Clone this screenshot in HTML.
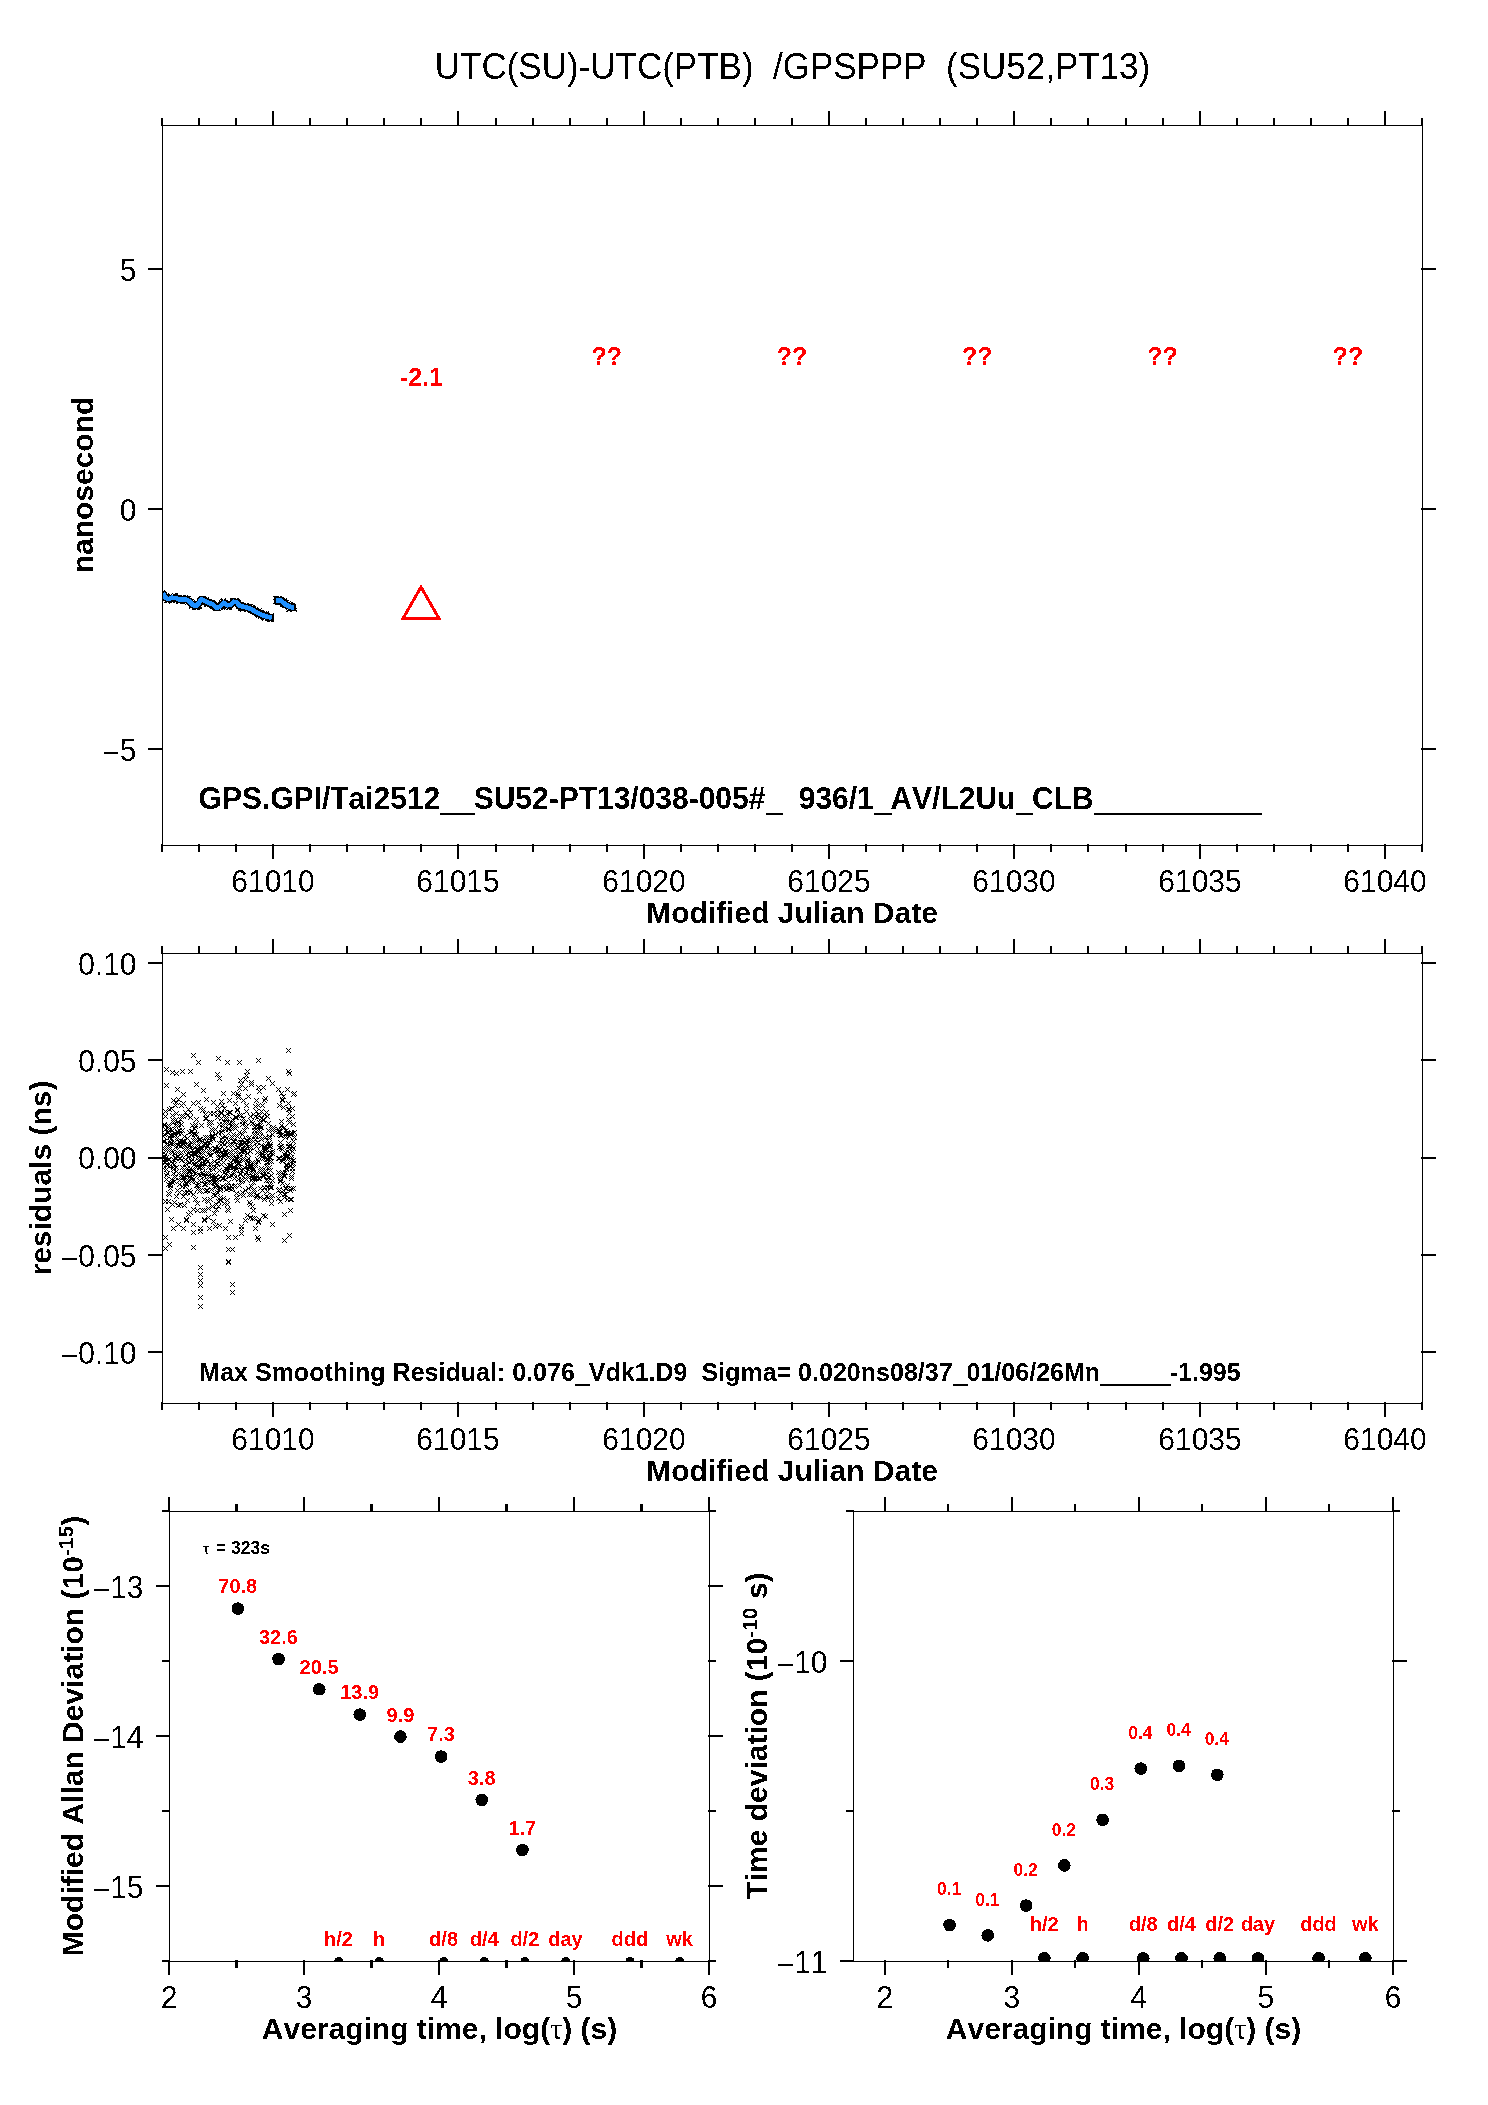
<!DOCTYPE html>
<html><head><meta charset="utf-8"><title>UTC(SU)-UTC(PTB) /GPSPPP</title>
<style>html,body{margin:0;padding:0;background:#fff;}svg{display:block;position:absolute;left:0;top:0;font-family:"Liberation Sans", sans-serif;}text{white-space:pre;font-kerning:none;font-variant-ligatures:none;}</style></head><body>
<svg width="1488" height="2105" viewBox="0 0 1488 2105">
<rect width="1488" height="2105" fill="#fff"/>
<defs><filter id="bw" filterUnits="userSpaceOnUse" x="0" y="0" width="1488" height="2105" color-interpolation-filters="sRGB"><feComponentTransfer><feFuncA type="discrete" tableValues="0 1"/></feComponentTransfer></filter></defs>
<g filter="url(#bw)">
<text transform="translate(792.5 78.5) scale(1 1.044)" font-size="35" text-anchor="middle">UTC(SU)-UTC(PTB)  /GPSPPP  (SU52,PT13)</text>
<g shape-rendering="crispEdges">
<rect x="162" y="125" width="1261" height="1"/>
<rect x="162" y="845" width="1261" height="1"/>
<rect x="162" y="125" width="1" height="721"/>
<rect x="1422" y="125" width="1" height="721"/>
</g>
<g shape-rendering="crispEdges">
<rect x="161" y="118" width="2" height="8"/>
<rect x="161" y="844" width="2" height="8"/>
<rect x="198" y="118" width="2" height="8"/>
<rect x="198" y="844" width="2" height="8"/>
<rect x="235" y="118" width="2" height="8"/>
<rect x="235" y="844" width="2" height="8"/>
<rect x="272" y="111" width="2" height="15"/>
<rect x="272" y="844" width="2" height="15"/>
<rect x="309" y="118" width="2" height="8"/>
<rect x="309" y="844" width="2" height="8"/>
<rect x="346" y="118" width="2" height="8"/>
<rect x="346" y="844" width="2" height="8"/>
<rect x="383" y="118" width="2" height="8"/>
<rect x="383" y="844" width="2" height="8"/>
<rect x="420" y="118" width="2" height="8"/>
<rect x="420" y="844" width="2" height="8"/>
<rect x="457" y="111" width="2" height="15"/>
<rect x="457" y="844" width="2" height="15"/>
<rect x="495" y="118" width="2" height="8"/>
<rect x="495" y="844" width="2" height="8"/>
<rect x="532" y="118" width="2" height="8"/>
<rect x="532" y="844" width="2" height="8"/>
<rect x="569" y="118" width="2" height="8"/>
<rect x="569" y="844" width="2" height="8"/>
<rect x="606" y="118" width="2" height="8"/>
<rect x="606" y="844" width="2" height="8"/>
<rect x="643" y="111" width="2" height="15"/>
<rect x="643" y="844" width="2" height="15"/>
<rect x="680" y="118" width="2" height="8"/>
<rect x="680" y="844" width="2" height="8"/>
<rect x="717" y="118" width="2" height="8"/>
<rect x="717" y="844" width="2" height="8"/>
<rect x="754" y="118" width="2" height="8"/>
<rect x="754" y="844" width="2" height="8"/>
<rect x="791" y="118" width="2" height="8"/>
<rect x="791" y="844" width="2" height="8"/>
<rect x="828" y="111" width="2" height="15"/>
<rect x="828" y="844" width="2" height="15"/>
<rect x="865" y="118" width="2" height="8"/>
<rect x="865" y="844" width="2" height="8"/>
<rect x="902" y="118" width="2" height="8"/>
<rect x="902" y="844" width="2" height="8"/>
<rect x="939" y="118" width="2" height="8"/>
<rect x="939" y="844" width="2" height="8"/>
<rect x="976" y="118" width="2" height="8"/>
<rect x="976" y="844" width="2" height="8"/>
<rect x="1013" y="111" width="2" height="15"/>
<rect x="1013" y="844" width="2" height="15"/>
<rect x="1050" y="118" width="2" height="8"/>
<rect x="1050" y="844" width="2" height="8"/>
<rect x="1087" y="118" width="2" height="8"/>
<rect x="1087" y="844" width="2" height="8"/>
<rect x="1125" y="118" width="2" height="8"/>
<rect x="1125" y="844" width="2" height="8"/>
<rect x="1162" y="118" width="2" height="8"/>
<rect x="1162" y="844" width="2" height="8"/>
<rect x="1199" y="111" width="2" height="15"/>
<rect x="1199" y="844" width="2" height="15"/>
<rect x="1236" y="118" width="2" height="8"/>
<rect x="1236" y="844" width="2" height="8"/>
<rect x="1273" y="118" width="2" height="8"/>
<rect x="1273" y="844" width="2" height="8"/>
<rect x="1310" y="118" width="2" height="8"/>
<rect x="1310" y="844" width="2" height="8"/>
<rect x="1347" y="118" width="2" height="8"/>
<rect x="1347" y="844" width="2" height="8"/>
<rect x="1384" y="111" width="2" height="15"/>
<rect x="1384" y="844" width="2" height="15"/>
<rect x="1421" y="118" width="2" height="8"/>
<rect x="1421" y="844" width="2" height="8"/>
</g>
<g shape-rendering="crispEdges">
<rect x="148" y="268" width="15" height="2"/>
<rect x="1421" y="268" width="15" height="2"/>
<rect x="148" y="508" width="15" height="2"/>
<rect x="1421" y="508" width="15" height="2"/>
<rect x="148" y="748" width="15" height="2"/>
<rect x="1421" y="748" width="15" height="2"/>
</g>
<text transform="translate(136.5 281) scale(1 1.044)" font-size="30" text-anchor="end">5</text>
<text transform="translate(136.5 521) scale(1 1.044)" font-size="30" text-anchor="end">0</text>
<text transform="translate(136.5 761) scale(1 1.044)" font-size="30" text-anchor="end"><tspan dy="1.92">&#8722;</tspan><tspan dy="-1.92">5</tspan></text>
<text transform="translate(273 892) scale(1 1.044)" font-size="30" text-anchor="middle">61010</text>
<text transform="translate(458 892) scale(1 1.044)" font-size="30" text-anchor="middle">61015</text>
<text transform="translate(644 892) scale(1 1.044)" font-size="30" text-anchor="middle">61020</text>
<text transform="translate(829 892) scale(1 1.044)" font-size="30" text-anchor="middle">61025</text>
<text transform="translate(1014 892) scale(1 1.044)" font-size="30" text-anchor="middle">61030</text>
<text transform="translate(1200 892) scale(1 1.044)" font-size="30" text-anchor="middle">61035</text>
<text transform="translate(1385 892) scale(1 1.044)" font-size="30" text-anchor="middle">61040</text>
<text transform="translate(792 923)" font-size="30" font-weight="bold" text-anchor="middle">Modified Julian Date</text>
<text transform="translate(93 485) rotate(-90)" font-size="30" font-weight="bold" text-anchor="middle">nanosecond</text>
<clipPath id="c1"><rect x="163" y="126" width="1259" height="719"/></clipPath>
<polygon points="421,587 403,618.5 439,618.5" fill="none" stroke="#f00" stroke-width="3" stroke-linejoin="miter" stroke-miterlimit="10"/>
<text transform="translate(421.41 386) scale(1 1.044)" font-size="25" font-weight="bold" text-anchor="middle" fill="#f00">-2.1</text>
<text transform="translate(606.71 365) scale(1 1.044)" font-size="25" font-weight="bold" text-anchor="middle" fill="#f00">??</text>
<text transform="translate(792 365) scale(1 1.044)" font-size="25" font-weight="bold" text-anchor="middle" fill="#f00">??</text>
<text transform="translate(977.29 365) scale(1 1.044)" font-size="25" font-weight="bold" text-anchor="middle" fill="#f00">??</text>
<text transform="translate(1162.59 365) scale(1 1.044)" font-size="25" font-weight="bold" text-anchor="middle" fill="#f00">??</text>
<text transform="translate(1347.88 365) scale(1 1.044)" font-size="25" font-weight="bold" text-anchor="middle" fill="#f00">??</text>
<g shape-rendering="crispEdges">
<rect x="440" y="813" width="35" height="2"/>
<rect x="766" y="813" width="17" height="2"/>
<rect x="874" y="813" width="18" height="2"/>
<rect x="1016" y="813" width="17" height="2"/>
<rect x="1094" y="813" width="168" height="2"/>
</g>
<text transform="translate(198.6 809) scale(1 1.044)" font-size="30" font-weight="bold">GPS.GPI/Tai2512    SU52-PT13/038-005#    936/1  AV/L2Uu  CLB                    </text>
<g shape-rendering="crispEdges">
<rect x="162" y="953" width="1261" height="1"/>
<rect x="162" y="1403" width="1261" height="1"/>
<rect x="162" y="953" width="1" height="451"/>
<rect x="1422" y="953" width="1" height="451"/>
</g>
<g shape-rendering="crispEdges">
<rect x="161" y="946" width="2" height="8"/>
<rect x="161" y="1402" width="2" height="8"/>
<rect x="198" y="946" width="2" height="8"/>
<rect x="198" y="1402" width="2" height="8"/>
<rect x="235" y="946" width="2" height="8"/>
<rect x="235" y="1402" width="2" height="8"/>
<rect x="272" y="939" width="2" height="15"/>
<rect x="272" y="1402" width="2" height="15"/>
<rect x="309" y="946" width="2" height="8"/>
<rect x="309" y="1402" width="2" height="8"/>
<rect x="346" y="946" width="2" height="8"/>
<rect x="346" y="1402" width="2" height="8"/>
<rect x="383" y="946" width="2" height="8"/>
<rect x="383" y="1402" width="2" height="8"/>
<rect x="420" y="946" width="2" height="8"/>
<rect x="420" y="1402" width="2" height="8"/>
<rect x="457" y="939" width="2" height="15"/>
<rect x="457" y="1402" width="2" height="15"/>
<rect x="495" y="946" width="2" height="8"/>
<rect x="495" y="1402" width="2" height="8"/>
<rect x="532" y="946" width="2" height="8"/>
<rect x="532" y="1402" width="2" height="8"/>
<rect x="569" y="946" width="2" height="8"/>
<rect x="569" y="1402" width="2" height="8"/>
<rect x="606" y="946" width="2" height="8"/>
<rect x="606" y="1402" width="2" height="8"/>
<rect x="643" y="939" width="2" height="15"/>
<rect x="643" y="1402" width="2" height="15"/>
<rect x="680" y="946" width="2" height="8"/>
<rect x="680" y="1402" width="2" height="8"/>
<rect x="717" y="946" width="2" height="8"/>
<rect x="717" y="1402" width="2" height="8"/>
<rect x="754" y="946" width="2" height="8"/>
<rect x="754" y="1402" width="2" height="8"/>
<rect x="791" y="946" width="2" height="8"/>
<rect x="791" y="1402" width="2" height="8"/>
<rect x="828" y="939" width="2" height="15"/>
<rect x="828" y="1402" width="2" height="15"/>
<rect x="865" y="946" width="2" height="8"/>
<rect x="865" y="1402" width="2" height="8"/>
<rect x="902" y="946" width="2" height="8"/>
<rect x="902" y="1402" width="2" height="8"/>
<rect x="939" y="946" width="2" height="8"/>
<rect x="939" y="1402" width="2" height="8"/>
<rect x="976" y="946" width="2" height="8"/>
<rect x="976" y="1402" width="2" height="8"/>
<rect x="1013" y="939" width="2" height="15"/>
<rect x="1013" y="1402" width="2" height="15"/>
<rect x="1050" y="946" width="2" height="8"/>
<rect x="1050" y="1402" width="2" height="8"/>
<rect x="1087" y="946" width="2" height="8"/>
<rect x="1087" y="1402" width="2" height="8"/>
<rect x="1125" y="946" width="2" height="8"/>
<rect x="1125" y="1402" width="2" height="8"/>
<rect x="1162" y="946" width="2" height="8"/>
<rect x="1162" y="1402" width="2" height="8"/>
<rect x="1199" y="939" width="2" height="15"/>
<rect x="1199" y="1402" width="2" height="15"/>
<rect x="1236" y="946" width="2" height="8"/>
<rect x="1236" y="1402" width="2" height="8"/>
<rect x="1273" y="946" width="2" height="8"/>
<rect x="1273" y="1402" width="2" height="8"/>
<rect x="1310" y="946" width="2" height="8"/>
<rect x="1310" y="1402" width="2" height="8"/>
<rect x="1347" y="946" width="2" height="8"/>
<rect x="1347" y="1402" width="2" height="8"/>
<rect x="1384" y="939" width="2" height="15"/>
<rect x="1384" y="1402" width="2" height="15"/>
<rect x="1421" y="946" width="2" height="8"/>
<rect x="1421" y="1402" width="2" height="8"/>
</g>
<g shape-rendering="crispEdges">
<rect x="148" y="962" width="15" height="2"/>
<rect x="1421" y="962" width="15" height="2"/>
<rect x="148" y="1059" width="15" height="2"/>
<rect x="1421" y="1059" width="15" height="2"/>
<rect x="148" y="1157" width="15" height="2"/>
<rect x="1421" y="1157" width="15" height="2"/>
<rect x="148" y="1254" width="15" height="2"/>
<rect x="1421" y="1254" width="15" height="2"/>
<rect x="148" y="1351" width="15" height="2"/>
<rect x="1421" y="1351" width="15" height="2"/>
</g>
<text transform="translate(136.5 975) scale(1 1.044)" font-size="30" text-anchor="end">0.10</text>
<text transform="translate(136.5 1072) scale(1 1.044)" font-size="30" text-anchor="end">0.05</text>
<text transform="translate(136.5 1169) scale(1 1.044)" font-size="30" text-anchor="end">0.00</text>
<text transform="translate(136.5 1267) scale(1 1.044)" font-size="30" text-anchor="end"><tspan dy="1.92">&#8722;</tspan><tspan dy="-1.92">0.05</tspan></text>
<text transform="translate(136.5 1364) scale(1 1.044)" font-size="30" text-anchor="end"><tspan dy="1.92">&#8722;</tspan><tspan dy="-1.92">0.10</tspan></text>
<text transform="translate(273 1450) scale(1 1.044)" font-size="30" text-anchor="middle">61010</text>
<text transform="translate(458 1450) scale(1 1.044)" font-size="30" text-anchor="middle">61015</text>
<text transform="translate(644 1450) scale(1 1.044)" font-size="30" text-anchor="middle">61020</text>
<text transform="translate(829 1450) scale(1 1.044)" font-size="30" text-anchor="middle">61025</text>
<text transform="translate(1014 1450) scale(1 1.044)" font-size="30" text-anchor="middle">61030</text>
<text transform="translate(1200 1450) scale(1 1.044)" font-size="30" text-anchor="middle">61035</text>
<text transform="translate(1385 1450) scale(1 1.044)" font-size="30" text-anchor="middle">61040</text>
<text transform="translate(792 1481)" font-size="30" font-weight="bold" text-anchor="middle">Modified Julian Date</text>
<text transform="translate(51 1178) rotate(-90)" font-size="30" font-weight="bold" text-anchor="middle">residuals (ns)</text>
<g shape-rendering="crispEdges">
<rect x="575" y="1384" width="15" height="2"/>
<rect x="953" y="1384" width="15" height="2"/>
<rect x="1100" y="1384" width="71" height="2"/>
</g>
<text transform="translate(199.3 1381) scale(1 1.044)" font-size="25" font-weight="bold" letter-spacing="0.02">Max Smoothing Residual: 0.076  Vdk1.D9  Sigma= 0.020ns08/37  01/06/26Mn          -1.995</text>
<clipPath id="c2"><rect x="163" y="954" width="1259" height="449"/></clipPath>
<path clip-path="url(#c2)" d="M160 1152l5 5m0-5l-5 5M161 1156l5 5m0-5l-5 5M161 1154l5 5m0-5l-5 5M161 1159l5 5m0-5l-5 5M161 1166l5 5m0-5l-5 5M161 1159l5 5m0-5l-5 5M161 1134l5 5m0-5l-5 5M161 1139l5 5m0-5l-5 5M162 1160l5 5m0-5l-5 5M162 1146l5 5m0-5l-5 5M162 1122l5 5m0-5l-5 5M162 1154l5 5m0-5l-5 5M162 1132l5 5m0-5l-5 5M162 1123l5 5m0-5l-5 5M162 1139l5 5m0-5l-5 5M163 1152l5 5m0-5l-5 5M163 1156l5 5m0-5l-5 5M163 1109l5 5m0-5l-5 5M163 1127l5 5m0-5l-5 5M163 1160l5 5m0-5l-5 5M163 1114l5 5m0-5l-5 5M163 1199l5 5m0-5l-5 5M163 1156l5 5m0-5l-5 5M164 1158l5 5m0-5l-5 5M164 1146l5 5m0-5l-5 5M164 1155l5 5m0-5l-5 5M164 1177l5 5m0-5l-5 5M164 1162l5 5m0-5l-5 5M164 1173l5 5m0-5l-5 5M164 1167l5 5m0-5l-5 5M165 1163l5 5m0-5l-5 5M165 1130l5 5m0-5l-5 5M165 1171l5 5m0-5l-5 5M165 1147l5 5m0-5l-5 5M165 1171l5 5m0-5l-5 5M165 1207l5 5m0-5l-5 5M165 1141l5 5m0-5l-5 5M166 1123l5 5m0-5l-5 5M166 1191l5 5m0-5l-5 5M166 1130l5 5m0-5l-5 5M166 1182l5 5m0-5l-5 5M166 1127l5 5m0-5l-5 5M166 1199l5 5m0-5l-5 5M166 1157l5 5m0-5l-5 5M166 1125l5 5m0-5l-5 5M167 1145l5 5m0-5l-5 5M167 1192l5 5m0-5l-5 5M167 1157l5 5m0-5l-5 5M167 1107l5 5m0-5l-5 5M167 1164l5 5m0-5l-5 5M167 1135l5 5m0-5l-5 5M167 1147l5 5m0-5l-5 5M168 1127l5 5m0-5l-5 5M168 1181l5 5m0-5l-5 5M168 1139l5 5m0-5l-5 5M168 1141l5 5m0-5l-5 5M168 1183l5 5m0-5l-5 5M168 1163l5 5m0-5l-5 5M168 1186l5 5m0-5l-5 5M168 1133l5 5m0-5l-5 5M169 1177l5 5m0-5l-5 5M169 1136l5 5m0-5l-5 5M169 1106l5 5m0-5l-5 5M169 1159l5 5m0-5l-5 5M169 1141l5 5m0-5l-5 5M169 1149l5 5m0-5l-5 5M169 1217l5 5m0-5l-5 5M170 1070l5 5m0-5l-5 5M170 1180l5 5m0-5l-5 5M170 1161l5 5m0-5l-5 5M170 1128l5 5m0-5l-5 5M170 1180l5 5m0-5l-5 5M170 1113l5 5m0-5l-5 5M170 1150l5 5m0-5l-5 5M171 1165l5 5m0-5l-5 5M171 1098l5 5m0-5l-5 5M171 1120l5 5m0-5l-5 5M171 1118l5 5m0-5l-5 5M171 1133l5 5m0-5l-5 5M171 1171l5 5m0-5l-5 5M171 1167l5 5m0-5l-5 5M171 1226l5 5m0-5l-5 5M172 1179l5 5m0-5l-5 5M172 1140l5 5m0-5l-5 5M172 1151l5 5m0-5l-5 5M172 1162l5 5m0-5l-5 5M172 1200l5 5m0-5l-5 5M172 1131l5 5m0-5l-5 5M172 1158l5 5m0-5l-5 5M173 1118l5 5m0-5l-5 5M173 1123l5 5m0-5l-5 5M173 1133l5 5m0-5l-5 5M173 1103l5 5m0-5l-5 5M173 1175l5 5m0-5l-5 5M173 1155l5 5m0-5l-5 5M173 1145l5 5m0-5l-5 5M173 1156l5 5m0-5l-5 5M174 1111l5 5m0-5l-5 5M174 1100l5 5m0-5l-5 5M174 1144l5 5m0-5l-5 5M174 1071l5 5m0-5l-5 5M174 1165l5 5m0-5l-5 5M174 1169l5 5m0-5l-5 5M174 1194l5 5m0-5l-5 5M175 1188l5 5m0-5l-5 5M175 1135l5 5m0-5l-5 5M175 1129l5 5m0-5l-5 5M175 1130l5 5m0-5l-5 5M175 1123l5 5m0-5l-5 5M175 1087l5 5m0-5l-5 5M175 1150l5 5m0-5l-5 5M176 1171l5 5m0-5l-5 5M176 1143l5 5m0-5l-5 5M176 1222l5 5m0-5l-5 5M176 1154l5 5m0-5l-5 5M176 1097l5 5m0-5l-5 5M176 1122l5 5m0-5l-5 5M176 1120l5 5m0-5l-5 5M176 1131l5 5m0-5l-5 5M177 1156l5 5m0-5l-5 5M177 1190l5 5m0-5l-5 5M177 1182l5 5m0-5l-5 5M177 1178l5 5m0-5l-5 5M177 1139l5 5m0-5l-5 5M177 1128l5 5m0-5l-5 5M177 1140l5 5m0-5l-5 5M178 1117l5 5m0-5l-5 5M178 1156l5 5m0-5l-5 5M178 1141l5 5m0-5l-5 5M178 1151l5 5m0-5l-5 5M178 1140l5 5m0-5l-5 5M178 1144l5 5m0-5l-5 5M178 1202l5 5m0-5l-5 5M179 1122l5 5m0-5l-5 5M179 1172l5 5m0-5l-5 5M179 1158l5 5m0-5l-5 5M179 1131l5 5m0-5l-5 5M179 1150l5 5m0-5l-5 5M179 1114l5 5m0-5l-5 5M179 1174l5 5m0-5l-5 5M179 1103l5 5m0-5l-5 5M180 1139l5 5m0-5l-5 5M180 1069l5 5m0-5l-5 5M180 1141l5 5m0-5l-5 5M180 1128l5 5m0-5l-5 5M180 1184l5 5m0-5l-5 5M180 1165l5 5m0-5l-5 5M180 1143l5 5m0-5l-5 5M181 1175l5 5m0-5l-5 5M181 1178l5 5m0-5l-5 5M181 1092l5 5m0-5l-5 5M181 1194l5 5m0-5l-5 5M181 1141l5 5m0-5l-5 5M181 1139l5 5m0-5l-5 5M181 1114l5 5m0-5l-5 5M181 1101l5 5m0-5l-5 5M182 1167l5 5m0-5l-5 5M182 1147l5 5m0-5l-5 5M182 1169l5 5m0-5l-5 5M182 1190l5 5m0-5l-5 5M182 1139l5 5m0-5l-5 5M182 1134l5 5m0-5l-5 5M182 1203l5 5m0-5l-5 5M183 1157l5 5m0-5l-5 5M183 1191l5 5m0-5l-5 5M183 1179l5 5m0-5l-5 5M183 1175l5 5m0-5l-5 5M183 1110l5 5m0-5l-5 5M183 1161l5 5m0-5l-5 5M183 1184l5 5m0-5l-5 5M184 1217l5 5m0-5l-5 5M184 1181l5 5m0-5l-5 5M184 1162l5 5m0-5l-5 5M184 1218l5 5m0-5l-5 5M184 1182l5 5m0-5l-5 5M184 1147l5 5m0-5l-5 5M184 1152l5 5m0-5l-5 5M184 1173l5 5m0-5l-5 5M185 1190l5 5m0-5l-5 5M185 1136l5 5m0-5l-5 5M185 1113l5 5m0-5l-5 5M185 1166l5 5m0-5l-5 5M185 1141l5 5m0-5l-5 5M185 1198l5 5m0-5l-5 5M185 1146l5 5m0-5l-5 5M186 1107l5 5m0-5l-5 5M186 1155l5 5m0-5l-5 5M186 1142l5 5m0-5l-5 5M186 1212l5 5m0-5l-5 5M186 1180l5 5m0-5l-5 5M186 1169l5 5m0-5l-5 5M186 1151l5 5m0-5l-5 5M186 1178l5 5m0-5l-5 5M187 1143l5 5m0-5l-5 5M187 1130l5 5m0-5l-5 5M187 1169l5 5m0-5l-5 5M187 1175l5 5m0-5l-5 5M187 1160l5 5m0-5l-5 5M187 1168l5 5m0-5l-5 5M187 1188l5 5m0-5l-5 5M188 1190l5 5m0-5l-5 5M188 1069l5 5m0-5l-5 5M188 1166l5 5m0-5l-5 5M188 1145l5 5m0-5l-5 5M188 1115l5 5m0-5l-5 5M188 1110l5 5m0-5l-5 5M188 1171l5 5m0-5l-5 5M189 1159l5 5m0-5l-5 5M189 1129l5 5m0-5l-5 5M189 1153l5 5m0-5l-5 5M189 1179l5 5m0-5l-5 5M189 1144l5 5m0-5l-5 5M189 1132l5 5m0-5l-5 5M189 1140l5 5m0-5l-5 5M189 1176l5 5m0-5l-5 5M190 1148l5 5m0-5l-5 5M190 1178l5 5m0-5l-5 5M190 1175l5 5m0-5l-5 5M190 1157l5 5m0-5l-5 5M190 1151l5 5m0-5l-5 5M190 1123l5 5m0-5l-5 5M190 1129l5 5m0-5l-5 5M191 1170l5 5m0-5l-5 5M191 1207l5 5m0-5l-5 5M191 1138l5 5m0-5l-5 5M191 1168l5 5m0-5l-5 5M191 1177l5 5m0-5l-5 5M191 1101l5 5m0-5l-5 5M191 1192l5 5m0-5l-5 5M192 1131l5 5m0-5l-5 5M192 1159l5 5m0-5l-5 5M192 1126l5 5m0-5l-5 5M192 1152l5 5m0-5l-5 5M192 1145l5 5m0-5l-5 5M192 1162l5 5m0-5l-5 5M192 1132l5 5m0-5l-5 5M192 1151l5 5m0-5l-5 5M193 1197l5 5m0-5l-5 5M193 1124l5 5m0-5l-5 5M193 1152l5 5m0-5l-5 5M193 1122l5 5m0-5l-5 5M193 1171l5 5m0-5l-5 5M193 1164l5 5m0-5l-5 5M193 1138l5 5m0-5l-5 5M194 1183l5 5m0-5l-5 5M194 1137l5 5m0-5l-5 5M194 1161l5 5m0-5l-5 5M194 1163l5 5m0-5l-5 5M194 1143l5 5m0-5l-5 5M194 1117l5 5m0-5l-5 5M194 1132l5 5m0-5l-5 5M194 1082l5 5m0-5l-5 5M195 1201l5 5m0-5l-5 5M195 1187l5 5m0-5l-5 5M195 1146l5 5m0-5l-5 5M195 1187l5 5m0-5l-5 5M195 1151l5 5m0-5l-5 5M195 1147l5 5m0-5l-5 5M195 1208l5 5m0-5l-5 5M196 1149l5 5m0-5l-5 5M196 1100l5 5m0-5l-5 5M196 1182l5 5m0-5l-5 5M196 1154l5 5m0-5l-5 5M196 1184l5 5m0-5l-5 5M196 1172l5 5m0-5l-5 5M196 1150l5 5m0-5l-5 5M197 1137l5 5m0-5l-5 5M197 1189l5 5m0-5l-5 5M197 1149l5 5m0-5l-5 5M197 1178l5 5m0-5l-5 5M197 1155l5 5m0-5l-5 5M197 1165l5 5m0-5l-5 5M197 1162l5 5m0-5l-5 5M197 1157l5 5m0-5l-5 5M198 1188l5 5m0-5l-5 5M198 1106l5 5m0-5l-5 5M198 1165l5 5m0-5l-5 5M198 1173l5 5m0-5l-5 5M198 1139l5 5m0-5l-5 5M198 1137l5 5m0-5l-5 5M198 1145l5 5m0-5l-5 5M199 1145l5 5m0-5l-5 5M199 1161l5 5m0-5l-5 5M199 1156l5 5m0-5l-5 5M199 1149l5 5m0-5l-5 5M199 1153l5 5m0-5l-5 5M199 1140l5 5m0-5l-5 5M199 1123l5 5m0-5l-5 5M199 1147l5 5m0-5l-5 5M200 1170l5 5m0-5l-5 5M200 1165l5 5m0-5l-5 5M200 1108l5 5m0-5l-5 5M200 1146l5 5m0-5l-5 5M200 1208l5 5m0-5l-5 5M200 1163l5 5m0-5l-5 5M200 1139l5 5m0-5l-5 5M201 1178l5 5m0-5l-5 5M201 1172l5 5m0-5l-5 5M201 1161l5 5m0-5l-5 5M201 1151l5 5m0-5l-5 5M201 1107l5 5m0-5l-5 5M201 1088l5 5m0-5l-5 5M201 1161l5 5m0-5l-5 5M202 1174l5 5m0-5l-5 5M202 1217l5 5m0-5l-5 5M202 1158l5 5m0-5l-5 5M202 1182l5 5m0-5l-5 5M202 1218l5 5m0-5l-5 5M202 1208l5 5m0-5l-5 5M202 1197l5 5m0-5l-5 5M202 1143l5 5m0-5l-5 5M203 1189l5 5m0-5l-5 5M203 1141l5 5m0-5l-5 5M203 1116l5 5m0-5l-5 5M203 1135l5 5m0-5l-5 5M203 1112l5 5m0-5l-5 5M203 1182l5 5m0-5l-5 5M203 1162l5 5m0-5l-5 5M204 1157l5 5m0-5l-5 5M204 1139l5 5m0-5l-5 5M204 1097l5 5m0-5l-5 5M204 1146l5 5m0-5l-5 5M204 1171l5 5m0-5l-5 5M204 1116l5 5m0-5l-5 5M204 1188l5 5m0-5l-5 5M205 1198l5 5m0-5l-5 5M205 1159l5 5m0-5l-5 5M205 1144l5 5m0-5l-5 5M205 1144l5 5m0-5l-5 5M205 1177l5 5m0-5l-5 5M205 1143l5 5m0-5l-5 5M205 1135l5 5m0-5l-5 5M205 1188l5 5m0-5l-5 5M206 1152l5 5m0-5l-5 5M206 1165l5 5m0-5l-5 5M206 1174l5 5m0-5l-5 5M206 1206l5 5m0-5l-5 5M206 1206l5 5m0-5l-5 5M206 1171l5 5m0-5l-5 5M206 1199l5 5m0-5l-5 5M207 1226l5 5m0-5l-5 5M207 1122l5 5m0-5l-5 5M207 1180l5 5m0-5l-5 5M207 1140l5 5m0-5l-5 5M207 1149l5 5m0-5l-5 5M207 1120l5 5m0-5l-5 5M207 1135l5 5m0-5l-5 5M207 1151l5 5m0-5l-5 5M208 1153l5 5m0-5l-5 5M208 1161l5 5m0-5l-5 5M208 1146l5 5m0-5l-5 5M208 1161l5 5m0-5l-5 5M208 1197l5 5m0-5l-5 5M208 1111l5 5m0-5l-5 5M208 1138l5 5m0-5l-5 5M209 1120l5 5m0-5l-5 5M209 1127l5 5m0-5l-5 5M209 1165l5 5m0-5l-5 5M209 1165l5 5m0-5l-5 5M209 1187l5 5m0-5l-5 5M209 1180l5 5m0-5l-5 5M209 1177l5 5m0-5l-5 5M210 1135l5 5m0-5l-5 5M210 1204l5 5m0-5l-5 5M210 1133l5 5m0-5l-5 5M210 1134l5 5m0-5l-5 5M210 1173l5 5m0-5l-5 5M210 1166l5 5m0-5l-5 5M210 1128l5 5m0-5l-5 5M210 1176l5 5m0-5l-5 5M211 1111l5 5m0-5l-5 5M211 1219l5 5m0-5l-5 5M211 1167l5 5m0-5l-5 5M211 1176l5 5m0-5l-5 5M211 1137l5 5m0-5l-5 5M211 1192l5 5m0-5l-5 5M211 1100l5 5m0-5l-5 5M212 1181l5 5m0-5l-5 5M212 1211l5 5m0-5l-5 5M212 1146l5 5m0-5l-5 5M212 1159l5 5m0-5l-5 5M212 1180l5 5m0-5l-5 5M212 1173l5 5m0-5l-5 5M212 1176l5 5m0-5l-5 5M212 1150l5 5m0-5l-5 5M213 1185l5 5m0-5l-5 5M213 1175l5 5m0-5l-5 5M213 1132l5 5m0-5l-5 5M213 1146l5 5m0-5l-5 5M213 1127l5 5m0-5l-5 5M213 1193l5 5m0-5l-5 5M213 1147l5 5m0-5l-5 5M214 1161l5 5m0-5l-5 5M214 1207l5 5m0-5l-5 5M214 1181l5 5m0-5l-5 5M214 1183l5 5m0-5l-5 5M214 1175l5 5m0-5l-5 5M214 1202l5 5m0-5l-5 5M214 1165l5 5m0-5l-5 5M215 1112l5 5m0-5l-5 5M215 1190l5 5m0-5l-5 5M215 1161l5 5m0-5l-5 5M215 1108l5 5m0-5l-5 5M215 1104l5 5m0-5l-5 5M215 1148l5 5m0-5l-5 5M215 1115l5 5m0-5l-5 5M215 1072l5 5m0-5l-5 5M216 1145l5 5m0-5l-5 5M216 1156l5 5m0-5l-5 5M216 1177l5 5m0-5l-5 5M216 1130l5 5m0-5l-5 5M216 1204l5 5m0-5l-5 5M216 1152l5 5m0-5l-5 5M216 1199l5 5m0-5l-5 5M217 1122l5 5m0-5l-5 5M217 1168l5 5m0-5l-5 5M217 1187l5 5m0-5l-5 5M217 1147l5 5m0-5l-5 5M217 1148l5 5m0-5l-5 5M217 1076l5 5m0-5l-5 5M217 1141l5 5m0-5l-5 5M218 1198l5 5m0-5l-5 5M218 1152l5 5m0-5l-5 5M218 1195l5 5m0-5l-5 5M218 1186l5 5m0-5l-5 5M218 1155l5 5m0-5l-5 5M218 1174l5 5m0-5l-5 5M218 1188l5 5m0-5l-5 5M218 1185l5 5m0-5l-5 5M219 1130l5 5m0-5l-5 5M219 1110l5 5m0-5l-5 5M219 1099l5 5m0-5l-5 5M219 1162l5 5m0-5l-5 5M219 1116l5 5m0-5l-5 5M219 1137l5 5m0-5l-5 5M219 1111l5 5m0-5l-5 5M220 1135l5 5m0-5l-5 5M220 1122l5 5m0-5l-5 5M220 1141l5 5m0-5l-5 5M220 1128l5 5m0-5l-5 5M220 1184l5 5m0-5l-5 5M220 1103l5 5m0-5l-5 5M220 1152l5 5m0-5l-5 5M220 1176l5 5m0-5l-5 5M221 1196l5 5m0-5l-5 5M221 1091l5 5m0-5l-5 5M221 1155l5 5m0-5l-5 5M221 1176l5 5m0-5l-5 5M221 1185l5 5m0-5l-5 5M221 1123l5 5m0-5l-5 5M221 1160l5 5m0-5l-5 5M222 1106l5 5m0-5l-5 5M222 1142l5 5m0-5l-5 5M222 1170l5 5m0-5l-5 5M222 1201l5 5m0-5l-5 5M222 1153l5 5m0-5l-5 5M222 1120l5 5m0-5l-5 5M222 1147l5 5m0-5l-5 5M223 1134l5 5m0-5l-5 5M223 1177l5 5m0-5l-5 5M223 1166l5 5m0-5l-5 5M223 1172l5 5m0-5l-5 5M223 1151l5 5m0-5l-5 5M223 1149l5 5m0-5l-5 5M223 1127l5 5m0-5l-5 5M223 1150l5 5m0-5l-5 5M224 1120l5 5m0-5l-5 5M224 1115l5 5m0-5l-5 5M224 1117l5 5m0-5l-5 5M224 1187l5 5m0-5l-5 5M224 1152l5 5m0-5l-5 5M224 1167l5 5m0-5l-5 5M224 1136l5 5m0-5l-5 5M225 1207l5 5m0-5l-5 5M225 1169l5 5m0-5l-5 5M225 1111l5 5m0-5l-5 5M225 1140l5 5m0-5l-5 5M225 1167l5 5m0-5l-5 5M225 1202l5 5m0-5l-5 5M225 1198l5 5m0-5l-5 5M225 1183l5 5m0-5l-5 5M226 1127l5 5m0-5l-5 5M226 1208l5 5m0-5l-5 5M226 1186l5 5m0-5l-5 5M226 1165l5 5m0-5l-5 5M226 1126l5 5m0-5l-5 5M226 1155l5 5m0-5l-5 5M226 1180l5 5m0-5l-5 5M227 1110l5 5m0-5l-5 5M227 1098l5 5m0-5l-5 5M227 1174l5 5m0-5l-5 5M227 1163l5 5m0-5l-5 5M227 1186l5 5m0-5l-5 5M227 1121l5 5m0-5l-5 5M227 1142l5 5m0-5l-5 5M228 1163l5 5m0-5l-5 5M228 1149l5 5m0-5l-5 5M228 1165l5 5m0-5l-5 5M228 1160l5 5m0-5l-5 5M228 1153l5 5m0-5l-5 5M228 1110l5 5m0-5l-5 5M228 1219l5 5m0-5l-5 5M228 1129l5 5m0-5l-5 5M229 1124l5 5m0-5l-5 5M229 1134l5 5m0-5l-5 5M229 1173l5 5m0-5l-5 5M229 1142l5 5m0-5l-5 5M229 1120l5 5m0-5l-5 5M229 1187l5 5m0-5l-5 5M229 1184l5 5m0-5l-5 5M230 1186l5 5m0-5l-5 5M230 1125l5 5m0-5l-5 5M230 1117l5 5m0-5l-5 5M230 1121l5 5m0-5l-5 5M230 1143l5 5m0-5l-5 5M230 1135l5 5m0-5l-5 5M230 1153l5 5m0-5l-5 5M231 1091l5 5m0-5l-5 5M231 1148l5 5m0-5l-5 5M231 1158l5 5m0-5l-5 5M231 1165l5 5m0-5l-5 5M231 1172l5 5m0-5l-5 5M231 1168l5 5m0-5l-5 5M231 1139l5 5m0-5l-5 5M231 1132l5 5m0-5l-5 5M232 1139l5 5m0-5l-5 5M232 1184l5 5m0-5l-5 5M232 1171l5 5m0-5l-5 5M232 1176l5 5m0-5l-5 5M232 1155l5 5m0-5l-5 5M232 1165l5 5m0-5l-5 5M232 1167l5 5m0-5l-5 5M233 1101l5 5m0-5l-5 5M233 1150l5 5m0-5l-5 5M233 1126l5 5m0-5l-5 5M233 1168l5 5m0-5l-5 5M233 1159l5 5m0-5l-5 5M233 1154l5 5m0-5l-5 5M233 1183l5 5m0-5l-5 5M233 1115l5 5m0-5l-5 5M234 1195l5 5m0-5l-5 5M234 1166l5 5m0-5l-5 5M234 1115l5 5m0-5l-5 5M234 1191l5 5m0-5l-5 5M234 1123l5 5m0-5l-5 5M234 1156l5 5m0-5l-5 5M234 1157l5 5m0-5l-5 5M235 1198l5 5m0-5l-5 5M235 1145l5 5m0-5l-5 5M235 1134l5 5m0-5l-5 5M235 1091l5 5m0-5l-5 5M235 1159l5 5m0-5l-5 5M235 1107l5 5m0-5l-5 5M235 1108l5 5m0-5l-5 5M236 1093l5 5m0-5l-5 5M236 1140l5 5m0-5l-5 5M236 1161l5 5m0-5l-5 5M236 1095l5 5m0-5l-5 5M236 1145l5 5m0-5l-5 5M236 1162l5 5m0-5l-5 5M236 1177l5 5m0-5l-5 5M236 1160l5 5m0-5l-5 5M237 1155l5 5m0-5l-5 5M237 1152l5 5m0-5l-5 5M237 1183l5 5m0-5l-5 5M237 1165l5 5m0-5l-5 5M237 1086l5 5m0-5l-5 5M237 1130l5 5m0-5l-5 5M237 1113l5 5m0-5l-5 5M238 1140l5 5m0-5l-5 5M238 1192l5 5m0-5l-5 5M238 1171l5 5m0-5l-5 5M238 1172l5 5m0-5l-5 5M238 1144l5 5m0-5l-5 5M238 1151l5 5m0-5l-5 5M238 1172l5 5m0-5l-5 5M238 1078l5 5m0-5l-5 5M239 1140l5 5m0-5l-5 5M239 1113l5 5m0-5l-5 5M239 1177l5 5m0-5l-5 5M239 1168l5 5m0-5l-5 5M239 1149l5 5m0-5l-5 5M239 1179l5 5m0-5l-5 5M239 1082l5 5m0-5l-5 5M240 1178l5 5m0-5l-5 5M240 1132l5 5m0-5l-5 5M240 1137l5 5m0-5l-5 5M240 1190l5 5m0-5l-5 5M240 1119l5 5m0-5l-5 5M240 1122l5 5m0-5l-5 5M240 1146l5 5m0-5l-5 5M241 1167l5 5m0-5l-5 5M241 1144l5 5m0-5l-5 5M241 1158l5 5m0-5l-5 5M241 1156l5 5m0-5l-5 5M241 1116l5 5m0-5l-5 5M241 1193l5 5m0-5l-5 5M241 1098l5 5m0-5l-5 5M241 1150l5 5m0-5l-5 5M242 1140l5 5m0-5l-5 5M242 1165l5 5m0-5l-5 5M242 1148l5 5m0-5l-5 5M242 1147l5 5m0-5l-5 5M242 1128l5 5m0-5l-5 5M242 1149l5 5m0-5l-5 5M242 1141l5 5m0-5l-5 5M243 1172l5 5m0-5l-5 5M243 1086l5 5m0-5l-5 5M243 1142l5 5m0-5l-5 5M243 1077l5 5m0-5l-5 5M243 1120l5 5m0-5l-5 5M243 1218l5 5m0-5l-5 5M243 1188l5 5m0-5l-5 5M244 1170l5 5m0-5l-5 5M244 1177l5 5m0-5l-5 5M244 1103l5 5m0-5l-5 5M244 1124l5 5m0-5l-5 5M244 1109l5 5m0-5l-5 5M244 1143l5 5m0-5l-5 5M244 1141l5 5m0-5l-5 5M244 1138l5 5m0-5l-5 5M245 1213l5 5m0-5l-5 5M245 1160l5 5m0-5l-5 5M245 1163l5 5m0-5l-5 5M245 1158l5 5m0-5l-5 5M245 1151l5 5m0-5l-5 5M245 1138l5 5m0-5l-5 5M245 1069l5 5m0-5l-5 5M246 1156l5 5m0-5l-5 5M246 1136l5 5m0-5l-5 5M246 1164l5 5m0-5l-5 5M246 1167l5 5m0-5l-5 5M246 1094l5 5m0-5l-5 5M246 1173l5 5m0-5l-5 5M246 1186l5 5m0-5l-5 5M246 1144l5 5m0-5l-5 5M247 1161l5 5m0-5l-5 5M247 1192l5 5m0-5l-5 5M247 1135l5 5m0-5l-5 5M247 1145l5 5m0-5l-5 5M247 1139l5 5m0-5l-5 5M247 1165l5 5m0-5l-5 5M247 1200l5 5m0-5l-5 5M248 1215l5 5m0-5l-5 5M248 1114l5 5m0-5l-5 5M248 1149l5 5m0-5l-5 5M248 1202l5 5m0-5l-5 5M248 1165l5 5m0-5l-5 5M248 1138l5 5m0-5l-5 5M248 1163l5 5m0-5l-5 5M249 1161l5 5m0-5l-5 5M249 1192l5 5m0-5l-5 5M249 1145l5 5m0-5l-5 5M249 1178l5 5m0-5l-5 5M249 1168l5 5m0-5l-5 5M249 1080l5 5m0-5l-5 5M249 1119l5 5m0-5l-5 5M249 1184l5 5m0-5l-5 5M250 1169l5 5m0-5l-5 5M250 1121l5 5m0-5l-5 5M250 1164l5 5m0-5l-5 5M250 1176l5 5m0-5l-5 5M250 1160l5 5m0-5l-5 5M250 1174l5 5m0-5l-5 5M250 1204l5 5m0-5l-5 5M251 1112l5 5m0-5l-5 5M251 1180l5 5m0-5l-5 5M251 1188l5 5m0-5l-5 5M251 1208l5 5m0-5l-5 5M251 1170l5 5m0-5l-5 5M251 1167l5 5m0-5l-5 5M251 1176l5 5m0-5l-5 5M251 1139l5 5m0-5l-5 5M252 1128l5 5m0-5l-5 5M252 1177l5 5m0-5l-5 5M252 1133l5 5m0-5l-5 5M252 1175l5 5m0-5l-5 5M252 1125l5 5m0-5l-5 5M252 1216l5 5m0-5l-5 5M252 1187l5 5m0-5l-5 5M253 1114l5 5m0-5l-5 5M253 1134l5 5m0-5l-5 5M253 1104l5 5m0-5l-5 5M253 1132l5 5m0-5l-5 5M253 1137l5 5m0-5l-5 5M253 1163l5 5m0-5l-5 5M253 1161l5 5m0-5l-5 5M254 1109l5 5m0-5l-5 5M254 1144l5 5m0-5l-5 5M254 1171l5 5m0-5l-5 5M254 1195l5 5m0-5l-5 5M254 1176l5 5m0-5l-5 5M254 1193l5 5m0-5l-5 5M254 1124l5 5m0-5l-5 5M254 1098l5 5m0-5l-5 5M255 1115l5 5m0-5l-5 5M255 1193l5 5m0-5l-5 5M255 1150l5 5m0-5l-5 5M255 1140l5 5m0-5l-5 5M255 1123l5 5m0-5l-5 5M255 1157l5 5m0-5l-5 5M255 1128l5 5m0-5l-5 5M256 1085l5 5m0-5l-5 5M256 1159l5 5m0-5l-5 5M256 1112l5 5m0-5l-5 5M256 1219l5 5m0-5l-5 5M256 1220l5 5m0-5l-5 5M256 1176l5 5m0-5l-5 5M256 1103l5 5m0-5l-5 5M257 1089l5 5m0-5l-5 5M257 1120l5 5m0-5l-5 5M257 1113l5 5m0-5l-5 5M257 1217l5 5m0-5l-5 5M257 1152l5 5m0-5l-5 5M257 1124l5 5m0-5l-5 5M257 1130l5 5m0-5l-5 5M257 1176l5 5m0-5l-5 5M258 1149l5 5m0-5l-5 5M258 1134l5 5m0-5l-5 5M258 1123l5 5m0-5l-5 5M258 1129l5 5m0-5l-5 5M258 1169l5 5m0-5l-5 5M258 1186l5 5m0-5l-5 5M258 1195l5 5m0-5l-5 5M259 1109l5 5m0-5l-5 5M259 1150l5 5m0-5l-5 5M259 1143l5 5m0-5l-5 5M259 1116l5 5m0-5l-5 5M259 1168l5 5m0-5l-5 5M259 1137l5 5m0-5l-5 5M259 1166l5 5m0-5l-5 5M259 1125l5 5m0-5l-5 5M260 1169l5 5m0-5l-5 5M260 1154l5 5m0-5l-5 5M260 1152l5 5m0-5l-5 5M260 1188l5 5m0-5l-5 5M260 1151l5 5m0-5l-5 5M260 1103l5 5m0-5l-5 5M260 1151l5 5m0-5l-5 5M261 1173l5 5m0-5l-5 5M261 1174l5 5m0-5l-5 5M261 1118l5 5m0-5l-5 5M261 1085l5 5m0-5l-5 5M261 1156l5 5m0-5l-5 5M261 1213l5 5m0-5l-5 5M261 1117l5 5m0-5l-5 5M262 1144l5 5m0-5l-5 5M262 1197l5 5m0-5l-5 5M262 1145l5 5m0-5l-5 5M262 1185l5 5m0-5l-5 5M262 1098l5 5m0-5l-5 5M262 1171l5 5m0-5l-5 5M262 1112l5 5m0-5l-5 5M262 1147l5 5m0-5l-5 5M263 1156l5 5m0-5l-5 5M263 1143l5 5m0-5l-5 5M263 1168l5 5m0-5l-5 5M263 1147l5 5m0-5l-5 5M263 1145l5 5m0-5l-5 5M263 1135l5 5m0-5l-5 5M263 1096l5 5m0-5l-5 5M264 1164l5 5m0-5l-5 5M264 1151l5 5m0-5l-5 5M264 1172l5 5m0-5l-5 5M264 1178l5 5m0-5l-5 5M264 1110l5 5m0-5l-5 5M264 1194l5 5m0-5l-5 5M264 1157l5 5m0-5l-5 5M264 1169l5 5m0-5l-5 5M265 1138l5 5m0-5l-5 5M265 1157l5 5m0-5l-5 5M265 1114l5 5m0-5l-5 5M265 1189l5 5m0-5l-5 5M265 1185l5 5m0-5l-5 5M265 1163l5 5m0-5l-5 5M265 1160l5 5m0-5l-5 5M266 1153l5 5m0-5l-5 5M266 1121l5 5m0-5l-5 5M266 1195l5 5m0-5l-5 5M266 1128l5 5m0-5l-5 5M266 1178l5 5m0-5l-5 5M266 1175l5 5m0-5l-5 5M266 1141l5 5m0-5l-5 5M267 1136l5 5m0-5l-5 5M267 1165l5 5m0-5l-5 5M267 1182l5 5m0-5l-5 5M267 1144l5 5m0-5l-5 5M267 1134l5 5m0-5l-5 5M267 1159l5 5m0-5l-5 5M267 1155l5 5m0-5l-5 5M267 1155l5 5m0-5l-5 5M268 1142l5 5m0-5l-5 5M268 1155l5 5m0-5l-5 5M268 1144l5 5m0-5l-5 5M268 1185l5 5m0-5l-5 5M268 1183l5 5m0-5l-5 5M268 1150l5 5m0-5l-5 5M268 1168l5 5m0-5l-5 5M269 1173l5 5m0-5l-5 5M269 1127l5 5m0-5l-5 5M269 1159l5 5m0-5l-5 5M269 1196l5 5m0-5l-5 5M269 1185l5 5m0-5l-5 5M269 1185l5 5m0-5l-5 5M269 1201l5 5m0-5l-5 5M270 1178l5 5m0-5l-5 5M270 1149l5 5m0-5l-5 5M270 1126l5 5m0-5l-5 5M270 1081l5 5m0-5l-5 5M270 1132l5 5m0-5l-5 5M270 1222l5 5m0-5l-5 5M270 1193l5 5m0-5l-5 5M270 1151l5 5m0-5l-5 5M271 1127l5 5m0-5l-5 5M271 1125l5 5m0-5l-5 5M276 1127l5 5m0-5l-5 5M276 1170l5 5m0-5l-5 5M276 1156l5 5m0-5l-5 5M276 1196l5 5m0-5l-5 5M276 1129l5 5m0-5l-5 5M276 1188l5 5m0-5l-5 5M276 1087l5 5m0-5l-5 5M277 1103l5 5m0-5l-5 5M277 1129l5 5m0-5l-5 5M277 1173l5 5m0-5l-5 5M277 1156l5 5m0-5l-5 5M277 1187l5 5m0-5l-5 5M277 1145l5 5m0-5l-5 5M277 1132l5 5m0-5l-5 5M277 1128l5 5m0-5l-5 5M278 1176l5 5m0-5l-5 5M278 1191l5 5m0-5l-5 5M278 1199l5 5m0-5l-5 5M278 1133l5 5m0-5l-5 5M278 1140l5 5m0-5l-5 5M278 1178l5 5m0-5l-5 5M278 1179l5 5m0-5l-5 5M279 1144l5 5m0-5l-5 5M279 1133l5 5m0-5l-5 5M279 1158l5 5m0-5l-5 5M279 1171l5 5m0-5l-5 5M279 1091l5 5m0-5l-5 5M279 1123l5 5m0-5l-5 5M279 1146l5 5m0-5l-5 5M279 1119l5 5m0-5l-5 5M280 1147l5 5m0-5l-5 5M280 1156l5 5m0-5l-5 5M280 1159l5 5m0-5l-5 5M280 1098l5 5m0-5l-5 5M280 1097l5 5m0-5l-5 5M280 1181l5 5m0-5l-5 5M280 1132l5 5m0-5l-5 5M281 1105l5 5m0-5l-5 5M281 1155l5 5m0-5l-5 5M281 1157l5 5m0-5l-5 5M281 1126l5 5m0-5l-5 5M281 1094l5 5m0-5l-5 5M281 1188l5 5m0-5l-5 5M281 1171l5 5m0-5l-5 5M282 1212l5 5m0-5l-5 5M282 1173l5 5m0-5l-5 5M282 1195l5 5m0-5l-5 5M282 1174l5 5m0-5l-5 5M282 1192l5 5m0-5l-5 5M282 1152l5 5m0-5l-5 5M282 1125l5 5m0-5l-5 5M282 1195l5 5m0-5l-5 5M283 1154l5 5m0-5l-5 5M283 1150l5 5m0-5l-5 5M283 1135l5 5m0-5l-5 5M283 1133l5 5m0-5l-5 5M283 1192l5 5m0-5l-5 5M283 1170l5 5m0-5l-5 5M283 1186l5 5m0-5l-5 5M284 1131l5 5m0-5l-5 5M284 1186l5 5m0-5l-5 5M284 1128l5 5m0-5l-5 5M284 1163l5 5m0-5l-5 5M284 1167l5 5m0-5l-5 5M284 1162l5 5m0-5l-5 5M284 1166l5 5m0-5l-5 5M285 1163l5 5m0-5l-5 5M285 1149l5 5m0-5l-5 5M285 1154l5 5m0-5l-5 5M285 1087l5 5m0-5l-5 5M285 1131l5 5m0-5l-5 5M285 1153l5 5m0-5l-5 5M285 1183l5 5m0-5l-5 5M285 1197l5 5m0-5l-5 5M286 1144l5 5m0-5l-5 5M286 1141l5 5m0-5l-5 5M286 1156l5 5m0-5l-5 5M286 1101l5 5m0-5l-5 5M286 1117l5 5m0-5l-5 5M286 1131l5 5m0-5l-5 5M286 1107l5 5m0-5l-5 5M287 1120l5 5m0-5l-5 5M287 1107l5 5m0-5l-5 5M287 1144l5 5m0-5l-5 5M287 1147l5 5m0-5l-5 5M287 1134l5 5m0-5l-5 5M287 1159l5 5m0-5l-5 5M287 1111l5 5m0-5l-5 5M287 1071l5 5m0-5l-5 5M288 1188l5 5m0-5l-5 5M288 1164l5 5m0-5l-5 5M288 1151l5 5m0-5l-5 5M288 1208l5 5m0-5l-5 5M288 1197l5 5m0-5l-5 5M288 1163l5 5m0-5l-5 5M288 1132l5 5m0-5l-5 5M289 1197l5 5m0-5l-5 5M289 1176l5 5m0-5l-5 5M289 1174l5 5m0-5l-5 5M289 1186l5 5m0-5l-5 5M289 1155l5 5m0-5l-5 5M289 1157l5 5m0-5l-5 5M289 1130l5 5m0-5l-5 5M290 1114l5 5m0-5l-5 5M290 1162l5 5m0-5l-5 5M290 1149l5 5m0-5l-5 5M290 1106l5 5m0-5l-5 5M290 1169l5 5m0-5l-5 5M290 1131l5 5m0-5l-5 5M290 1144l5 5m0-5l-5 5M290 1166l5 5m0-5l-5 5M291 1186l5 5m0-5l-5 5M291 1139l5 5m0-5l-5 5M291 1158l5 5m0-5l-5 5M291 1161l5 5m0-5l-5 5M291 1092l5 5m0-5l-5 5M291 1122l5 5m0-5l-5 5M291 1146l5 5m0-5l-5 5M292 1091l5 5m0-5l-5 5M292 1135l5 5m0-5l-5 5M292 1130l5 5m0-5l-5 5M198 1265l5 5m0-5l-5 5M198 1272l5 5m0-5l-5 5M198 1278l5 5m0-5l-5 5M198 1283l5 5m0-5l-5 5M198 1295l5 5m0-5l-5 5M198 1304l5 5m0-5l-5 5M226 1259l5 5m0-5l-5 5M226 1260l5 5m0-5l-5 5M230 1282l5 5m0-5l-5 5M230 1290l5 5m0-5l-5 5M286 1048l5 5m0-5l-5 5M191 1053l5 5m0-5l-5 5M196 1060l5 5m0-5l-5 5M216 1056l5 5m0-5l-5 5M225 1060l5 5m0-5l-5 5M237 1060l5 5m0-5l-5 5M256 1058l5 5m0-5l-5 5M286 1069l5 5m0-5l-5 5M266 1076l5 5m0-5l-5 5M244 1073l5 5m0-5l-5 5M249 1082l5 5m0-5l-5 5M164 1067l5 5m0-5l-5 5M164 1083l5 5m0-5l-5 5M181 1226l5 5m0-5l-5 5M191 1245l5 5m0-5l-5 5M167 1242l5 5m0-5l-5 5M163 1235l5 5m0-5l-5 5M163 1246l5 5m0-5l-5 5M198 1226l5 5m0-5l-5 5M198 1229l5 5m0-5l-5 5M223 1226l5 5m0-5l-5 5M226 1235l5 5m0-5l-5 5M233 1235l5 5m0-5l-5 5M226 1247l5 5m0-5l-5 5M230 1247l5 5m0-5l-5 5M255 1235l5 5m0-5l-5 5M256 1237l5 5m0-5l-5 5M253 1226l5 5m0-5l-5 5M239 1224l5 5m0-5l-5 5M239 1227l5 5m0-5l-5 5M239 1231l5 5m0-5l-5 5M282 1238l5 5m0-5l-5 5M287 1233l5 5m0-5l-5 5M263 1214l5 5m0-5l-5 5M191 1230l5 5m0-5l-5 5M191 1222l5 5m0-5l-5 5M213 1224l5 5m0-5l-5 5M217 1223l5 5m0-5l-5 5M206 1215l5 5m0-5l-5 5M176 1203l5 5m0-5l-5 5M170 1202l5 5m0-5l-5 5M188 1210l5 5m0-5l-5 5M250 1216l5 5m0-5l-5 5" stroke="#000" stroke-width="1" fill="none" shape-rendering="crispEdges"/>
<g shape-rendering="crispEdges">
<rect x="169" y="1511" width="541" height="1"/>
<rect x="169" y="1961" width="541" height="1"/>
<rect x="169" y="1511" width="1" height="451"/>
<rect x="709" y="1511" width="1" height="451"/>
<rect x="168" y="1497" width="2" height="15"/>
<rect x="168" y="1960" width="2" height="15"/>
<rect x="235" y="1504" width="3" height="8"/>
<rect x="235" y="1960" width="3" height="8"/>
<rect x="303" y="1497" width="2" height="15"/>
<rect x="303" y="1960" width="2" height="15"/>
<rect x="370" y="1504" width="3" height="8"/>
<rect x="370" y="1960" width="3" height="8"/>
<rect x="438" y="1497" width="2" height="15"/>
<rect x="438" y="1960" width="2" height="15"/>
<rect x="505" y="1504" width="3" height="8"/>
<rect x="505" y="1960" width="3" height="8"/>
<rect x="573" y="1497" width="2" height="15"/>
<rect x="573" y="1960" width="2" height="15"/>
<rect x="640" y="1504" width="3" height="8"/>
<rect x="640" y="1960" width="3" height="8"/>
<rect x="708" y="1497" width="2" height="15"/>
<rect x="708" y="1960" width="2" height="15"/>
<rect x="156" y="1585" width="14" height="2"/>
<rect x="708" y="1585" width="15" height="2"/>
<rect x="156" y="1735" width="14" height="2"/>
<rect x="708" y="1735" width="15" height="2"/>
<rect x="156" y="1885" width="14" height="2"/>
<rect x="708" y="1885" width="15" height="2"/>
<rect x="162" y="1510" width="8" height="2"/>
<rect x="708" y="1510" width="8" height="2"/>
<rect x="162" y="1660" width="8" height="2"/>
<rect x="708" y="1660" width="8" height="2"/>
<rect x="162" y="1810" width="8" height="2"/>
<rect x="708" y="1810" width="8" height="2"/>
<rect x="162" y="1960" width="8" height="2"/>
<rect x="708" y="1960" width="8" height="2"/>
</g>
<text transform="translate(169 2008) scale(1 1.044)" font-size="30" text-anchor="middle">2</text>
<text transform="translate(304 2008) scale(1 1.044)" font-size="30" text-anchor="middle">3</text>
<text transform="translate(439 2008) scale(1 1.044)" font-size="30" text-anchor="middle">4</text>
<text transform="translate(574 2008) scale(1 1.044)" font-size="30" text-anchor="middle">5</text>
<text transform="translate(709 2008) scale(1 1.044)" font-size="30" text-anchor="middle">6</text>
<text transform="translate(143.5 1598) scale(1 1.044)" font-size="30" text-anchor="end"><tspan dy="1.92">&#8722;</tspan><tspan dy="-1.92">13</tspan></text>
<text transform="translate(143.5 1748) scale(1 1.044)" font-size="30" text-anchor="end"><tspan dy="1.92">&#8722;</tspan><tspan dy="-1.92">14</tspan></text>
<text transform="translate(143.5 1898) scale(1 1.044)" font-size="30" text-anchor="end"><tspan dy="1.92">&#8722;</tspan><tspan dy="-1.92">15</tspan></text>
<text x="439.5" y="2039" font-size="30" font-weight="bold" text-anchor="middle">Averaging time, log(<tspan font-family='"Liberation Serif", serif' font-weight="normal">&#964;</tspan>) (s)</text>
<text font-size="30" font-weight="bold" text-anchor="middle" transform="translate(83 1736) rotate(-90)">Modified Allan Deviation (10<tspan font-size="21" dy="-10">-15</tspan><tspan dy="10">)</tspan></text>
<clipPath id="c3"><rect x="170" y="1512" width="539" height="449.5"/></clipPath>
<g clip-path="url(#c3)">
<circle cx="338.61" cy="1961.5" r="4.5"/>
<circle cx="379.25" cy="1961.5" r="4.5"/>
<circle cx="443.66" cy="1961.5" r="4.5"/>
<circle cx="484.3" cy="1961.5" r="4.5"/>
<circle cx="524.94" cy="1961.5" r="4.5"/>
<circle cx="565.58" cy="1961.5" r="4.5"/>
<circle cx="629.99" cy="1961.5" r="4.5"/>
<circle cx="679.67" cy="1961.5" r="4.5"/>
</g>
<circle cx="237.89" cy="1608.5" r="6.3"/>
<text transform="translate(237.79 1593.4) scale(1 1.044)" font-size="20" font-weight="bold" text-anchor="middle" fill="#f00">70.8</text>
<circle cx="278.53" cy="1659.02" r="6.3"/>
<text transform="translate(278.43 1643.92) scale(1 1.044)" font-size="20" font-weight="bold" text-anchor="middle" fill="#f00">32.6</text>
<circle cx="319.17" cy="1689.24" r="6.3"/>
<text transform="translate(319.07 1674.14) scale(1 1.044)" font-size="20" font-weight="bold" text-anchor="middle" fill="#f00">20.5</text>
<circle cx="359.81" cy="1714.55" r="6.3"/>
<text transform="translate(359.71 1699.45) scale(1 1.044)" font-size="20" font-weight="bold" text-anchor="middle" fill="#f00">13.9</text>
<circle cx="400.45" cy="1736.65" r="6.3"/>
<text transform="translate(400.35 1721.55) scale(1 1.044)" font-size="20" font-weight="bold" text-anchor="middle" fill="#f00">9.9</text>
<circle cx="441.09" cy="1756.5" r="6.3"/>
<text transform="translate(440.99 1741.4) scale(1 1.044)" font-size="20" font-weight="bold" text-anchor="middle" fill="#f00">7.3</text>
<circle cx="481.73" cy="1800" r="6.3"/>
<text transform="translate(481.63 1784.9) scale(1 1.044)" font-size="20" font-weight="bold" text-anchor="middle" fill="#f00">3.8</text>
<circle cx="522.37" cy="1850" r="6.3"/>
<text transform="translate(522.27 1834.9) scale(1 1.044)" font-size="20" font-weight="bold" text-anchor="middle" fill="#f00">1.7</text>
<text transform="translate(338.51 1946)" font-size="20" font-weight="bold" text-anchor="middle" fill="#f00">h/2</text>
<text transform="translate(379.15 1946)" font-size="20" font-weight="bold" text-anchor="middle" fill="#f00">h</text>
<text transform="translate(443.56 1946)" font-size="20" font-weight="bold" text-anchor="middle" fill="#f00">d/8</text>
<text transform="translate(484.2 1946)" font-size="20" font-weight="bold" text-anchor="middle" fill="#f00">d/4</text>
<text transform="translate(524.84 1946)" font-size="20" font-weight="bold" text-anchor="middle" fill="#f00">d/2</text>
<text transform="translate(565.48 1946)" font-size="20" font-weight="bold" text-anchor="middle" fill="#f00">day</text>
<text transform="translate(629.89 1946)" font-size="20" font-weight="bold" text-anchor="middle" fill="#f00">ddd</text>
<text transform="translate(679.57 1946)" font-size="20" font-weight="bold" text-anchor="middle" fill="#f00">wk</text>
<text x="202.7" y="1554" font-size="17.5" font-weight="bold"><tspan font-family='"Liberation Serif", serif' font-weight="normal">&#964;</tspan><tspan dx="1.4"> = 323s</tspan></text>
<g shape-rendering="crispEdges">
<rect x="853" y="1511" width="541" height="1"/>
<rect x="853" y="1961" width="541" height="1"/>
<rect x="853" y="1511" width="1" height="451"/>
<rect x="1393" y="1511" width="1" height="451"/>
<rect x="884" y="1497" width="2" height="15"/>
<rect x="884" y="1960" width="2" height="15"/>
<rect x="947" y="1504" width="2" height="8"/>
<rect x="947" y="1960" width="2" height="8"/>
<rect x="1011" y="1497" width="2" height="15"/>
<rect x="1011" y="1960" width="2" height="15"/>
<rect x="1074" y="1504" width="2" height="8"/>
<rect x="1074" y="1960" width="2" height="8"/>
<rect x="1138" y="1497" width="2" height="15"/>
<rect x="1138" y="1960" width="2" height="15"/>
<rect x="1201" y="1504" width="2" height="8"/>
<rect x="1201" y="1960" width="2" height="8"/>
<rect x="1265" y="1497" width="2" height="15"/>
<rect x="1265" y="1960" width="2" height="15"/>
<rect x="1328" y="1504" width="2" height="8"/>
<rect x="1328" y="1960" width="2" height="8"/>
<rect x="1392" y="1497" width="2" height="15"/>
<rect x="1392" y="1960" width="2" height="15"/>
<rect x="840" y="1660" width="14" height="2"/>
<rect x="1392" y="1660" width="15" height="2"/>
<rect x="840" y="1960" width="14" height="2"/>
<rect x="1392" y="1960" width="15" height="2"/>
<rect x="846" y="1510" width="8" height="2"/>
<rect x="1392" y="1510" width="8" height="2"/>
<rect x="846" y="1810" width="8" height="2"/>
<rect x="1392" y="1810" width="8" height="2"/>
</g>
<text transform="translate(884.76 2008) scale(1 1.044)" font-size="30" text-anchor="middle">2</text>
<text transform="translate(1011.82 2008) scale(1 1.044)" font-size="30" text-anchor="middle">3</text>
<text transform="translate(1138.88 2008) scale(1 1.044)" font-size="30" text-anchor="middle">4</text>
<text transform="translate(1265.94 2008) scale(1 1.044)" font-size="30" text-anchor="middle">5</text>
<text transform="translate(1393 2008) scale(1 1.044)" font-size="30" text-anchor="middle">6</text>
<text transform="translate(827.5 1673) scale(1 1.044)" font-size="30" text-anchor="end"><tspan dy="1.92">&#8722;</tspan><tspan dy="-1.92">10</tspan></text>
<text transform="translate(827.5 1973) scale(1 1.044)" font-size="30" text-anchor="end"><tspan dy="1.92">&#8722;</tspan><tspan dy="-1.92">11</tspan></text>
<text x="1123.5" y="2039" font-size="30" font-weight="bold" text-anchor="middle">Averaging time, log(<tspan font-family='"Liberation Serif", serif' font-weight="normal">&#964;</tspan>) (s)</text>
<text font-size="30" font-weight="bold" text-anchor="middle" transform="translate(767 1736) rotate(-90)">Time deviation (10<tspan font-size="21" dy="-10">-10</tspan><tspan dy="10"> s)</tspan></text>
<clipPath id="c4"><rect x="854" y="1512" width="539" height="449.5"/></clipPath>
<g clip-path="url(#c4)">
<circle cx="1044.36" cy="1958.3" r="6.3"/>
<circle cx="1082.61" cy="1958.3" r="6.3"/>
<circle cx="1143.23" cy="1958.3" r="6.3"/>
<circle cx="1181.48" cy="1958.3" r="6.3"/>
<circle cx="1219.73" cy="1958.3" r="6.3"/>
<circle cx="1257.97" cy="1958.3" r="6.3"/>
<circle cx="1318.6" cy="1958.3" r="6.3"/>
<circle cx="1365.35" cy="1958.3" r="6.3"/>
</g>
<circle cx="949.56" cy="1925" r="6.3"/>
<text transform="translate(949.06 1895.3) scale(1 1.044)" font-size="17.5" font-weight="bold" text-anchor="middle" fill="#f00">0.1</text>
<circle cx="987.81" cy="1935.4" r="6.3"/>
<text transform="translate(987.31 1905.7) scale(1 1.044)" font-size="17.5" font-weight="bold" text-anchor="middle" fill="#f00">0.1</text>
<circle cx="1026.06" cy="1905.5" r="6.3"/>
<text transform="translate(1025.56 1875.8) scale(1 1.044)" font-size="17.5" font-weight="bold" text-anchor="middle" fill="#f00">0.2</text>
<circle cx="1064.31" cy="1865.4" r="6.3"/>
<text transform="translate(1063.81 1835.7) scale(1 1.044)" font-size="17.5" font-weight="bold" text-anchor="middle" fill="#f00">0.2</text>
<circle cx="1102.56" cy="1819.7" r="6.3"/>
<text transform="translate(1102.06 1790) scale(1 1.044)" font-size="17.5" font-weight="bold" text-anchor="middle" fill="#f00">0.3</text>
<circle cx="1140.81" cy="1768.6" r="6.3"/>
<text transform="translate(1140.31 1738.9) scale(1 1.044)" font-size="17.5" font-weight="bold" text-anchor="middle" fill="#f00">0.4</text>
<circle cx="1179.05" cy="1765.8" r="6.3"/>
<text transform="translate(1178.55 1736.1) scale(1 1.044)" font-size="17.5" font-weight="bold" text-anchor="middle" fill="#f00">0.4</text>
<circle cx="1217.3" cy="1774.8" r="6.3"/>
<text transform="translate(1216.8 1745.1) scale(1 1.044)" font-size="17.5" font-weight="bold" text-anchor="middle" fill="#f00">0.4</text>
<text transform="translate(1044.26 1931)" font-size="20" font-weight="bold" text-anchor="middle" fill="#f00">h/2</text>
<text transform="translate(1082.51 1931)" font-size="20" font-weight="bold" text-anchor="middle" fill="#f00">h</text>
<text transform="translate(1143.13 1931)" font-size="20" font-weight="bold" text-anchor="middle" fill="#f00">d/8</text>
<text transform="translate(1181.38 1931)" font-size="20" font-weight="bold" text-anchor="middle" fill="#f00">d/4</text>
<text transform="translate(1219.63 1931)" font-size="20" font-weight="bold" text-anchor="middle" fill="#f00">d/2</text>
<text transform="translate(1257.87 1931)" font-size="20" font-weight="bold" text-anchor="middle" fill="#f00">day</text>
<text transform="translate(1318.5 1931)" font-size="20" font-weight="bold" text-anchor="middle" fill="#f00">ddd</text>
<text transform="translate(1365.25 1931)" font-size="20" font-weight="bold" text-anchor="middle" fill="#f00">wk</text>
</g>
<g clip-path="url(#c1)">
<path d="M160.1 590.57l5 5m0-5l-5 5M160.26 591.03l5 5m0-5l-5 5M160.42 591.61l5 5m0-5l-5 5M160.58 590.68l5 5m0-5l-5 5M160.74 591.26l5 5m0-5l-5 5M160.9 592.49l5 5m0-5l-5 5M161.06 591.67l5 5m0-5l-5 5M161.22 592.24l5 5m0-5l-5 5M161.38 593.54l5 5m0-5l-5 5M161.54 593.79l5 5m0-5l-5 5M161.7 592.66l5 5m0-5l-5 5M161.86 593.27l5 5m0-5l-5 5M162.02 592.84l5 5m0-5l-5 5M162.18 593.71l5 5m0-5l-5 5M162.34 594.73l5 5m0-5l-5 5M162.5 594.42l5 5m0-5l-5 5M162.66 595.81l5 5m0-5l-5 5M162.82 594.7l5 5m0-5l-5 5M162.98 594.36l5 5m0-5l-5 5M163.14 595.05l5 5m0-5l-5 5M163.3 595.03l5 5m0-5l-5 5M163.46 594.6l5 5m0-5l-5 5M163.62 595.26l5 5m0-5l-5 5M163.78 595.68l5 5m0-5l-5 5M163.94 594.13l5 5m0-5l-5 5M164.1 598.03l5 5m0-5l-5 5M164.26 597.53l5 5m0-5l-5 5M164.42 595.68l5 5m0-5l-5 5M164.58 598.51l5 5m0-5l-5 5M164.74 596.18l5 5m0-5l-5 5M164.9 597.47l5 5m0-5l-5 5M165.06 595.03l5 5m0-5l-5 5M165.22 596.65l5 5m0-5l-5 5M165.38 596.99l5 5m0-5l-5 5M165.54 594.78l5 5m0-5l-5 5M165.7 597.78l5 5m0-5l-5 5M165.86 595.09l5 5m0-5l-5 5M166.02 595.73l5 5m0-5l-5 5M166.18 596.62l5 5m0-5l-5 5M166.34 597.69l5 5m0-5l-5 5M166.5 595.87l5 5m0-5l-5 5M166.66 594.41l5 5m0-5l-5 5M166.82 596.51l5 5m0-5l-5 5M166.98 595.47l5 5m0-5l-5 5M167.14 596.64l5 5m0-5l-5 5M167.3 595.54l5 5m0-5l-5 5M167.46 596.43l5 5m0-5l-5 5M167.62 594.68l5 5m0-5l-5 5M167.78 596.43l5 5m0-5l-5 5M167.94 597.11l5 5m0-5l-5 5M168.1 593.13l5 5m0-5l-5 5M168.26 595.4l5 5m0-5l-5 5M168.42 596.25l5 5m0-5l-5 5M168.58 595.74l5 5m0-5l-5 5M168.74 597.5l5 5m0-5l-5 5M168.9 595.25l5 5m0-5l-5 5M169.06 595.85l5 5m0-5l-5 5M169.22 595.96l5 5m0-5l-5 5M169.38 594.69l5 5m0-5l-5 5M169.54 595.07l5 5m0-5l-5 5M169.7 595.06l5 5m0-5l-5 5M169.86 595.53l5 5m0-5l-5 5M170.02 595.15l5 5m0-5l-5 5M170.18 594.86l5 5m0-5l-5 5M170.34 597.65l5 5m0-5l-5 5M170.5 595.23l5 5m0-5l-5 5M170.66 595.77l5 5m0-5l-5 5M170.82 593.6l5 5m0-5l-5 5M170.98 594.3l5 5m0-5l-5 5M171.14 596.56l5 5m0-5l-5 5M171.3 595.49l5 5m0-5l-5 5M171.46 594.23l5 5m0-5l-5 5M171.62 596.81l5 5m0-5l-5 5M171.78 596.02l5 5m0-5l-5 5M171.94 594.82l5 5m0-5l-5 5M172.1 596.79l5 5m0-5l-5 5M172.26 593.25l5 5m0-5l-5 5M172.42 596.78l5 5m0-5l-5 5M172.58 596.1l5 5m0-5l-5 5M172.74 597.3l5 5m0-5l-5 5M172.9 595.18l5 5m0-5l-5 5M173.06 594.35l5 5m0-5l-5 5M173.22 596.19l5 5m0-5l-5 5M173.38 595.96l5 5m0-5l-5 5M173.54 596.42l5 5m0-5l-5 5M173.7 595.54l5 5m0-5l-5 5M173.86 596.21l5 5m0-5l-5 5M174.02 596.56l5 5m0-5l-5 5M174.18 594.64l5 5m0-5l-5 5M174.34 595.65l5 5m0-5l-5 5M174.5 596.08l5 5m0-5l-5 5M174.66 596.06l5 5m0-5l-5 5M174.82 595.45l5 5m0-5l-5 5M174.98 596.2l5 5m0-5l-5 5M175.14 594.77l5 5m0-5l-5 5M175.3 595.12l5 5m0-5l-5 5M175.46 597.39l5 5m0-5l-5 5M175.62 597.13l5 5m0-5l-5 5M175.78 594.94l5 5m0-5l-5 5M175.94 597.57l5 5m0-5l-5 5M176.1 597.65l5 5m0-5l-5 5M176.26 596.35l5 5m0-5l-5 5M176.42 596.81l5 5m0-5l-5 5M176.58 598.93l5 5m0-5l-5 5M176.74 597.77l5 5m0-5l-5 5M176.9 597.06l5 5m0-5l-5 5M177.06 596.44l5 5m0-5l-5 5M177.22 597.42l5 5m0-5l-5 5M177.38 596.54l5 5m0-5l-5 5M177.54 595.99l5 5m0-5l-5 5M177.7 597.21l5 5m0-5l-5 5M177.86 598.27l5 5m0-5l-5 5M178.02 596.84l5 5m0-5l-5 5M178.18 596.28l5 5m0-5l-5 5M178.34 598.2l5 5m0-5l-5 5M178.5 597.6l5 5m0-5l-5 5M178.66 597.6l5 5m0-5l-5 5M178.82 598.46l5 5m0-5l-5 5M178.98 597.24l5 5m0-5l-5 5M179.14 597.6l5 5m0-5l-5 5M179.3 597.78l5 5m0-5l-5 5M179.46 596.44l5 5m0-5l-5 5M179.62 596.67l5 5m0-5l-5 5M179.78 598.25l5 5m0-5l-5 5M179.94 596.43l5 5m0-5l-5 5M180.1 595.49l5 5m0-5l-5 5M180.26 597.19l5 5m0-5l-5 5M180.42 596.15l5 5m0-5l-5 5M180.58 596.02l5 5m0-5l-5 5M180.74 597.34l5 5m0-5l-5 5M180.9 595.52l5 5m0-5l-5 5M181.06 596.72l5 5m0-5l-5 5M181.22 596.58l5 5m0-5l-5 5M181.38 596.55l5 5m0-5l-5 5M181.54 595.68l5 5m0-5l-5 5M181.7 597.99l5 5m0-5l-5 5M181.86 598.48l5 5m0-5l-5 5M182.02 597.15l5 5m0-5l-5 5M182.18 596.33l5 5m0-5l-5 5M182.34 595.76l5 5m0-5l-5 5M182.5 595.94l5 5m0-5l-5 5M182.66 596.96l5 5m0-5l-5 5M182.82 596.67l5 5m0-5l-5 5M182.98 595.65l5 5m0-5l-5 5M183.14 596.9l5 5m0-5l-5 5M183.3 597.26l5 5m0-5l-5 5M183.46 595.76l5 5m0-5l-5 5M183.62 599.13l5 5m0-5l-5 5M183.78 596.59l5 5m0-5l-5 5M183.94 596.02l5 5m0-5l-5 5M184.1 597.66l5 5m0-5l-5 5M184.26 597.39l5 5m0-5l-5 5M184.42 597.04l5 5m0-5l-5 5M184.58 597.26l5 5m0-5l-5 5M184.74 597.21l5 5m0-5l-5 5M184.9 598.23l5 5m0-5l-5 5M185.06 596.59l5 5m0-5l-5 5M185.22 599.83l5 5m0-5l-5 5M185.38 597.76l5 5m0-5l-5 5M185.54 596.15l5 5m0-5l-5 5M185.7 599.03l5 5m0-5l-5 5M185.86 598.72l5 5m0-5l-5 5M186.02 598.46l5 5m0-5l-5 5M186.18 598.19l5 5m0-5l-5 5M186.34 598.72l5 5m0-5l-5 5M186.5 599.05l5 5m0-5l-5 5M186.66 599.04l5 5m0-5l-5 5M186.82 598.12l5 5m0-5l-5 5M186.98 598.82l5 5m0-5l-5 5M187.14 599.22l5 5m0-5l-5 5M187.3 600.25l5 5m0-5l-5 5M187.46 600.29l5 5m0-5l-5 5M187.62 599.87l5 5m0-5l-5 5M187.78 598.85l5 5m0-5l-5 5M187.94 599.81l5 5m0-5l-5 5M188.1 600.37l5 5m0-5l-5 5M188.26 600.74l5 5m0-5l-5 5M188.42 600.77l5 5m0-5l-5 5M188.58 600.95l5 5m0-5l-5 5M188.74 602.05l5 5m0-5l-5 5M188.9 599.07l5 5m0-5l-5 5M189.06 603.3l5 5m0-5l-5 5M189.22 600.78l5 5m0-5l-5 5M189.38 603.4l5 5m0-5l-5 5M189.54 602.62l5 5m0-5l-5 5M189.7 602.4l5 5m0-5l-5 5M189.86 600.4l5 5m0-5l-5 5M190.02 601.55l5 5m0-5l-5 5M190.18 601.1l5 5m0-5l-5 5M190.34 603.02l5 5m0-5l-5 5M190.5 602.6l5 5m0-5l-5 5M190.66 602.07l5 5m0-5l-5 5M190.82 601.43l5 5m0-5l-5 5M190.98 602.52l5 5m0-5l-5 5M191.14 602.92l5 5m0-5l-5 5M191.3 602.18l5 5m0-5l-5 5M191.46 602.6l5 5m0-5l-5 5M191.62 602.92l5 5m0-5l-5 5M191.78 601.7l5 5m0-5l-5 5M191.94 601l5 5m0-5l-5 5M192.1 601.63l5 5m0-5l-5 5M192.26 604.34l5 5m0-5l-5 5M192.42 602.69l5 5m0-5l-5 5M192.58 602.64l5 5m0-5l-5 5M192.74 602.48l5 5m0-5l-5 5M192.9 602.86l5 5m0-5l-5 5M193.06 602.07l5 5m0-5l-5 5M193.22 604.54l5 5m0-5l-5 5M193.38 603.76l5 5m0-5l-5 5M193.54 603.76l5 5m0-5l-5 5M193.7 603.27l5 5m0-5l-5 5M193.86 602.98l5 5m0-5l-5 5M194.02 603.25l5 5m0-5l-5 5M194.18 602.66l5 5m0-5l-5 5M194.34 603.94l5 5m0-5l-5 5M194.5 605.01l5 5m0-5l-5 5M194.66 602.53l5 5m0-5l-5 5M194.82 603.45l5 5m0-5l-5 5M194.98 603.55l5 5m0-5l-5 5M195.14 603l5 5m0-5l-5 5M195.3 602.75l5 5m0-5l-5 5M195.46 602.09l5 5m0-5l-5 5M195.62 601.88l5 5m0-5l-5 5M195.78 603.05l5 5m0-5l-5 5M195.94 601.84l5 5m0-5l-5 5M196.1 602.06l5 5m0-5l-5 5M196.26 600.8l5 5m0-5l-5 5M196.42 603.73l5 5m0-5l-5 5M196.58 602.53l5 5m0-5l-5 5M196.74 599.77l5 5m0-5l-5 5M196.9 600.76l5 5m0-5l-5 5M197.06 598.65l5 5m0-5l-5 5M197.22 600.56l5 5m0-5l-5 5M197.38 598.33l5 5m0-5l-5 5M197.54 599.64l5 5m0-5l-5 5M197.7 599.92l5 5m0-5l-5 5M197.86 598.35l5 5m0-5l-5 5M198.02 597.86l5 5m0-5l-5 5M198.18 598.4l5 5m0-5l-5 5M198.34 599.26l5 5m0-5l-5 5M198.5 597.45l5 5m0-5l-5 5M198.66 595.72l5 5m0-5l-5 5M198.82 597.41l5 5m0-5l-5 5M198.98 597.31l5 5m0-5l-5 5M199.14 597.09l5 5m0-5l-5 5M199.3 599.84l5 5m0-5l-5 5M199.46 597.15l5 5m0-5l-5 5M199.62 598.07l5 5m0-5l-5 5M199.78 596.58l5 5m0-5l-5 5M199.94 595.8l5 5m0-5l-5 5M200.1 595.91l5 5m0-5l-5 5M200.26 596.82l5 5m0-5l-5 5M200.42 599.02l5 5m0-5l-5 5M200.58 595.82l5 5m0-5l-5 5M200.74 597.85l5 5m0-5l-5 5M200.9 597.9l5 5m0-5l-5 5M201.06 599.79l5 5m0-5l-5 5M201.22 596.71l5 5m0-5l-5 5M201.38 597.27l5 5m0-5l-5 5M201.54 598.85l5 5m0-5l-5 5M201.7 597.71l5 5m0-5l-5 5M201.86 597.22l5 5m0-5l-5 5M202.02 598.92l5 5m0-5l-5 5M202.18 598.91l5 5m0-5l-5 5M202.34 598.03l5 5m0-5l-5 5M202.5 599.84l5 5m0-5l-5 5M202.66 599.45l5 5m0-5l-5 5M202.82 600.22l5 5m0-5l-5 5M202.98 599.82l5 5m0-5l-5 5M203.14 598.7l5 5m0-5l-5 5M203.3 597.62l5 5m0-5l-5 5M203.46 598.42l5 5m0-5l-5 5M203.62 599.58l5 5m0-5l-5 5M203.78 597.81l5 5m0-5l-5 5M203.94 597.64l5 5m0-5l-5 5M204.1 599.21l5 5m0-5l-5 5M204.26 601.93l5 5m0-5l-5 5M204.42 599.92l5 5m0-5l-5 5M204.58 600.93l5 5m0-5l-5 5M204.74 598.76l5 5m0-5l-5 5M204.9 600.24l5 5m0-5l-5 5M205.06 601.27l5 5m0-5l-5 5M205.22 600.97l5 5m0-5l-5 5M205.38 600.17l5 5m0-5l-5 5M205.54 600.34l5 5m0-5l-5 5M205.7 601.43l5 5m0-5l-5 5M205.86 600.18l5 5m0-5l-5 5M206.02 600.7l5 5m0-5l-5 5M206.18 600.52l5 5m0-5l-5 5M206.34 599.6l5 5m0-5l-5 5M206.5 600.25l5 5m0-5l-5 5M206.66 600.42l5 5m0-5l-5 5M206.82 598.85l5 5m0-5l-5 5M206.98 599.9l5 5m0-5l-5 5M207.14 600.88l5 5m0-5l-5 5M207.3 599.83l5 5m0-5l-5 5M207.46 601.8l5 5m0-5l-5 5M207.62 601.91l5 5m0-5l-5 5M207.78 600.63l5 5m0-5l-5 5M207.94 601.8l5 5m0-5l-5 5M208.1 601.32l5 5m0-5l-5 5M208.26 602.13l5 5m0-5l-5 5M208.42 600.74l5 5m0-5l-5 5M208.58 600.27l5 5m0-5l-5 5M208.74 600.28l5 5m0-5l-5 5M208.9 600.02l5 5m0-5l-5 5M209.06 601.94l5 5m0-5l-5 5M209.22 600.23l5 5m0-5l-5 5M209.38 602.79l5 5m0-5l-5 5M209.54 601.54l5 5m0-5l-5 5M209.7 600.19l5 5m0-5l-5 5M209.86 601.39l5 5m0-5l-5 5M210.02 603.42l5 5m0-5l-5 5M210.18 601.66l5 5m0-5l-5 5M210.34 602.63l5 5m0-5l-5 5M210.5 601.93l5 5m0-5l-5 5M210.66 600.93l5 5m0-5l-5 5M210.82 603.29l5 5m0-5l-5 5M210.98 602.44l5 5m0-5l-5 5M211.14 600.83l5 5m0-5l-5 5M211.3 602.84l5 5m0-5l-5 5M211.46 603.99l5 5m0-5l-5 5M211.62 602.32l5 5m0-5l-5 5M211.78 603.9l5 5m0-5l-5 5M211.94 604.37l5 5m0-5l-5 5M212.1 604.21l5 5m0-5l-5 5M212.26 602.7l5 5m0-5l-5 5M212.42 602.57l5 5m0-5l-5 5M212.58 604.24l5 5m0-5l-5 5M212.74 605.65l5 5m0-5l-5 5M212.9 604.34l5 5m0-5l-5 5M213.06 603.87l5 5m0-5l-5 5M213.22 605.24l5 5m0-5l-5 5M213.38 604.81l5 5m0-5l-5 5M213.54 603.89l5 5m0-5l-5 5M213.7 602.94l5 5m0-5l-5 5M213.86 604.49l5 5m0-5l-5 5M214.02 605.88l5 5m0-5l-5 5M214.18 604.6l5 5m0-5l-5 5M214.34 604.53l5 5m0-5l-5 5M214.5 605.9l5 5m0-5l-5 5M214.66 605.27l5 5m0-5l-5 5M214.82 604.09l5 5m0-5l-5 5M214.98 604.29l5 5m0-5l-5 5M215.14 604.32l5 5m0-5l-5 5M215.3 605.73l5 5m0-5l-5 5M215.46 605.98l5 5m0-5l-5 5M215.62 606.12l5 5m0-5l-5 5M215.78 603.58l5 5m0-5l-5 5M215.94 605.8l5 5m0-5l-5 5M216.1 602.55l5 5m0-5l-5 5M216.26 603.62l5 5m0-5l-5 5M216.42 604.65l5 5m0-5l-5 5M216.58 603.9l5 5m0-5l-5 5M216.74 604.24l5 5m0-5l-5 5M216.9 604.38l5 5m0-5l-5 5M217.06 604.26l5 5m0-5l-5 5M217.22 603.32l5 5m0-5l-5 5M217.38 604.66l5 5m0-5l-5 5M217.54 603.65l5 5m0-5l-5 5M217.7 602.38l5 5m0-5l-5 5M217.86 603.38l5 5m0-5l-5 5M218.02 603.94l5 5m0-5l-5 5M218.18 601.87l5 5m0-5l-5 5M218.34 603.64l5 5m0-5l-5 5M218.5 602.17l5 5m0-5l-5 5M218.66 603.19l5 5m0-5l-5 5M218.82 602.87l5 5m0-5l-5 5M218.98 603.9l5 5m0-5l-5 5M219.14 602.63l5 5m0-5l-5 5M219.3 601.31l5 5m0-5l-5 5M219.46 600.22l5 5m0-5l-5 5M219.62 601.78l5 5m0-5l-5 5M219.78 600.99l5 5m0-5l-5 5M219.94 602.78l5 5m0-5l-5 5M220.1 601.8l5 5m0-5l-5 5M220.26 601.99l5 5m0-5l-5 5M220.42 600.89l5 5m0-5l-5 5M220.58 599.42l5 5m0-5l-5 5M220.74 599.76l5 5m0-5l-5 5M220.9 598.48l5 5m0-5l-5 5M221.06 598.63l5 5m0-5l-5 5M221.22 601.33l5 5m0-5l-5 5M221.38 600.39l5 5m0-5l-5 5M221.54 600.54l5 5m0-5l-5 5M221.7 600.93l5 5m0-5l-5 5M221.86 601.64l5 5m0-5l-5 5M222.02 601.7l5 5m0-5l-5 5M222.18 600.54l5 5m0-5l-5 5M222.34 600.52l5 5m0-5l-5 5M222.5 602.51l5 5m0-5l-5 5M222.66 602.25l5 5m0-5l-5 5M222.82 600.83l5 5m0-5l-5 5M222.98 600.42l5 5m0-5l-5 5M223.14 602.04l5 5m0-5l-5 5M223.3 602.24l5 5m0-5l-5 5M223.46 601.57l5 5m0-5l-5 5M223.62 603.94l5 5m0-5l-5 5M223.78 602.29l5 5m0-5l-5 5M223.94 601.95l5 5m0-5l-5 5M224.1 604.33l5 5m0-5l-5 5M224.26 601.39l5 5m0-5l-5 5M224.42 602.59l5 5m0-5l-5 5M224.58 601.75l5 5m0-5l-5 5M224.74 604.45l5 5m0-5l-5 5M224.9 602.28l5 5m0-5l-5 5M225.06 602.96l5 5m0-5l-5 5M225.22 603l5 5m0-5l-5 5M225.38 601.76l5 5m0-5l-5 5M225.54 603.69l5 5m0-5l-5 5M225.7 605.28l5 5m0-5l-5 5M225.86 603.08l5 5m0-5l-5 5M226.02 602.06l5 5m0-5l-5 5M226.18 601.5l5 5m0-5l-5 5M226.34 602.1l5 5m0-5l-5 5M226.5 602.59l5 5m0-5l-5 5M226.66 602.52l5 5m0-5l-5 5M226.82 600.79l5 5m0-5l-5 5M226.98 604.37l5 5m0-5l-5 5M227.14 602.73l5 5m0-5l-5 5M227.3 600.94l5 5m0-5l-5 5M227.46 604.34l5 5m0-5l-5 5M227.62 601.98l5 5m0-5l-5 5M227.78 602.96l5 5m0-5l-5 5M227.94 602.64l5 5m0-5l-5 5M228.1 603.19l5 5m0-5l-5 5M228.26 602.7l5 5m0-5l-5 5M228.42 602.25l5 5m0-5l-5 5M228.58 600.51l5 5m0-5l-5 5M228.74 601.89l5 5m0-5l-5 5M228.9 600.98l5 5m0-5l-5 5M229.06 601.14l5 5m0-5l-5 5M229.22 601.76l5 5m0-5l-5 5M229.38 601.11l5 5m0-5l-5 5M229.54 601.32l5 5m0-5l-5 5M229.7 600.36l5 5m0-5l-5 5M229.86 600l5 5m0-5l-5 5M230.02 599.16l5 5m0-5l-5 5M230.18 598.22l5 5m0-5l-5 5M230.34 598.61l5 5m0-5l-5 5M230.5 599.84l5 5m0-5l-5 5M230.66 601.37l5 5m0-5l-5 5M230.82 598.58l5 5m0-5l-5 5M230.98 599.31l5 5m0-5l-5 5M231.14 598.73l5 5m0-5l-5 5M231.3 599.74l5 5m0-5l-5 5M231.46 601.27l5 5m0-5l-5 5M231.62 600.79l5 5m0-5l-5 5M231.78 599l5 5m0-5l-5 5M231.94 598.94l5 5m0-5l-5 5M232.1 599.68l5 5m0-5l-5 5M232.26 598.85l5 5m0-5l-5 5M232.42 598.78l5 5m0-5l-5 5M232.58 598.35l5 5m0-5l-5 5M232.74 599.88l5 5m0-5l-5 5M232.9 598.55l5 5m0-5l-5 5M233.06 601.22l5 5m0-5l-5 5M233.22 599.18l5 5m0-5l-5 5M233.38 599.16l5 5m0-5l-5 5M233.54 599.86l5 5m0-5l-5 5M233.7 599.69l5 5m0-5l-5 5M233.86 600.3l5 5m0-5l-5 5M234.02 597.89l5 5m0-5l-5 5M234.18 599.54l5 5m0-5l-5 5M234.34 599.89l5 5m0-5l-5 5M234.5 598.66l5 5m0-5l-5 5M234.66 599.58l5 5m0-5l-5 5M234.82 600.9l5 5m0-5l-5 5M234.98 601.23l5 5m0-5l-5 5M235.14 599.42l5 5m0-5l-5 5M235.3 600.39l5 5m0-5l-5 5M235.46 600.12l5 5m0-5l-5 5M235.62 601.81l5 5m0-5l-5 5M235.78 600.29l5 5m0-5l-5 5M235.94 601.75l5 5m0-5l-5 5M236.1 603.03l5 5m0-5l-5 5M236.26 601.88l5 5m0-5l-5 5M236.42 603.2l5 5m0-5l-5 5M236.58 603.91l5 5m0-5l-5 5M236.74 601.78l5 5m0-5l-5 5M236.9 602.08l5 5m0-5l-5 5M237.06 602.38l5 5m0-5l-5 5M237.22 602.81l5 5m0-5l-5 5M237.38 603.39l5 5m0-5l-5 5M237.54 602l5 5m0-5l-5 5M237.7 603.65l5 5m0-5l-5 5M237.86 602.73l5 5m0-5l-5 5M238.02 604.51l5 5m0-5l-5 5M238.18 605.87l5 5m0-5l-5 5M238.34 603.57l5 5m0-5l-5 5M238.5 605.87l5 5m0-5l-5 5M238.66 604.85l5 5m0-5l-5 5M238.82 604.23l5 5m0-5l-5 5M238.98 601.9l5 5m0-5l-5 5M239.14 604.03l5 5m0-5l-5 5M239.3 603.15l5 5m0-5l-5 5M239.46 604.88l5 5m0-5l-5 5M239.62 605.01l5 5m0-5l-5 5M239.78 604.17l5 5m0-5l-5 5M239.94 603.56l5 5m0-5l-5 5M240.1 606.56l5 5m0-5l-5 5M240.26 604.29l5 5m0-5l-5 5M240.42 604.8l5 5m0-5l-5 5M240.58 603.71l5 5m0-5l-5 5M240.74 604.61l5 5m0-5l-5 5M240.9 603.45l5 5m0-5l-5 5M241.06 604.36l5 5m0-5l-5 5M241.22 604.16l5 5m0-5l-5 5M241.38 603.76l5 5m0-5l-5 5M241.54 603.91l5 5m0-5l-5 5M241.7 604.27l5 5m0-5l-5 5M241.86 604.29l5 5m0-5l-5 5M242.02 604.22l5 5m0-5l-5 5M242.18 604.16l5 5m0-5l-5 5M242.34 604.21l5 5m0-5l-5 5M242.5 604.76l5 5m0-5l-5 5M242.66 604.21l5 5m0-5l-5 5M242.82 605.11l5 5m0-5l-5 5M242.98 604.19l5 5m0-5l-5 5M243.14 605.83l5 5m0-5l-5 5M243.3 604.03l5 5m0-5l-5 5M243.46 603.62l5 5m0-5l-5 5M243.62 602.89l5 5m0-5l-5 5M243.78 604.67l5 5m0-5l-5 5M243.94 604.52l5 5m0-5l-5 5M244.1 605.38l5 5m0-5l-5 5M244.26 604.72l5 5m0-5l-5 5M244.42 604.25l5 5m0-5l-5 5M244.58 606.16l5 5m0-5l-5 5M244.74 604.84l5 5m0-5l-5 5M244.9 606.26l5 5m0-5l-5 5M245.06 605.43l5 5m0-5l-5 5M245.22 606.55l5 5m0-5l-5 5M245.38 605.14l5 5m0-5l-5 5M245.54 605.93l5 5m0-5l-5 5M245.7 604.63l5 5m0-5l-5 5M245.86 605.26l5 5m0-5l-5 5M246.02 605.37l5 5m0-5l-5 5M246.18 605.82l5 5m0-5l-5 5M246.34 606.19l5 5m0-5l-5 5M246.5 605.01l5 5m0-5l-5 5M246.66 606.35l5 5m0-5l-5 5M246.82 604.44l5 5m0-5l-5 5M246.98 605.37l5 5m0-5l-5 5M247.14 606.01l5 5m0-5l-5 5M247.3 606.83l5 5m0-5l-5 5M247.46 606.58l5 5m0-5l-5 5M247.62 606.18l5 5m0-5l-5 5M247.78 604.49l5 5m0-5l-5 5M247.94 607.72l5 5m0-5l-5 5M248.1 606.65l5 5m0-5l-5 5M248.26 607.28l5 5m0-5l-5 5M248.42 607.77l5 5m0-5l-5 5M248.58 606.58l5 5m0-5l-5 5M248.74 605.74l5 5m0-5l-5 5M248.9 607.11l5 5m0-5l-5 5M249.06 606.11l5 5m0-5l-5 5M249.22 607.39l5 5m0-5l-5 5M249.38 606.39l5 5m0-5l-5 5M249.54 607.41l5 5m0-5l-5 5M249.7 606.57l5 5m0-5l-5 5M249.86 604.86l5 5m0-5l-5 5M250.02 608.17l5 5m0-5l-5 5M250.18 606.87l5 5m0-5l-5 5M250.34 609.32l5 5m0-5l-5 5M250.5 607.75l5 5m0-5l-5 5M250.66 606.44l5 5m0-5l-5 5M250.82 608.13l5 5m0-5l-5 5M250.98 606.84l5 5m0-5l-5 5M251.14 606.41l5 5m0-5l-5 5M251.3 606.99l5 5m0-5l-5 5M251.46 608.07l5 5m0-5l-5 5M251.62 608.5l5 5m0-5l-5 5M251.78 608.61l5 5m0-5l-5 5M251.94 608.79l5 5m0-5l-5 5M252.1 609.1l5 5m0-5l-5 5M252.26 609.94l5 5m0-5l-5 5M252.42 608.28l5 5m0-5l-5 5M252.58 609.77l5 5m0-5l-5 5M252.74 609.12l5 5m0-5l-5 5M252.9 607.37l5 5m0-5l-5 5M253.06 610.2l5 5m0-5l-5 5M253.22 608.12l5 5m0-5l-5 5M253.38 610.03l5 5m0-5l-5 5M253.54 609.34l5 5m0-5l-5 5M253.7 610.43l5 5m0-5l-5 5M253.86 611.2l5 5m0-5l-5 5M254.02 610.56l5 5m0-5l-5 5M254.18 608.06l5 5m0-5l-5 5M254.34 609.96l5 5m0-5l-5 5M254.5 609.52l5 5m0-5l-5 5M254.66 609.81l5 5m0-5l-5 5M254.82 609.98l5 5m0-5l-5 5M254.98 611.09l5 5m0-5l-5 5M255.14 610.46l5 5m0-5l-5 5M255.3 609.39l5 5m0-5l-5 5M255.46 612.25l5 5m0-5l-5 5M255.62 610.1l5 5m0-5l-5 5M255.78 610.12l5 5m0-5l-5 5M255.94 609.47l5 5m0-5l-5 5M256.1 610.42l5 5m0-5l-5 5M256.26 609.95l5 5m0-5l-5 5M256.42 612.58l5 5m0-5l-5 5M256.58 612.25l5 5m0-5l-5 5M256.74 608.53l5 5m0-5l-5 5M256.9 611.84l5 5m0-5l-5 5M257.06 611.1l5 5m0-5l-5 5M257.22 609.97l5 5m0-5l-5 5M257.38 609.99l5 5m0-5l-5 5M257.54 612.21l5 5m0-5l-5 5M257.7 611.63l5 5m0-5l-5 5M257.86 612.65l5 5m0-5l-5 5M258.02 610.93l5 5m0-5l-5 5M258.18 613.59l5 5m0-5l-5 5M258.34 612.37l5 5m0-5l-5 5M258.5 611.83l5 5m0-5l-5 5M258.66 613.01l5 5m0-5l-5 5M258.82 612.25l5 5m0-5l-5 5M258.98 611.7l5 5m0-5l-5 5M259.14 611.2l5 5m0-5l-5 5M259.3 612.47l5 5m0-5l-5 5M259.46 609.6l5 5m0-5l-5 5M259.62 611.64l5 5m0-5l-5 5M259.78 611.14l5 5m0-5l-5 5M259.94 613.41l5 5m0-5l-5 5M260.1 613.7l5 5m0-5l-5 5M260.26 612.19l5 5m0-5l-5 5M260.42 612.23l5 5m0-5l-5 5M260.58 614.35l5 5m0-5l-5 5M260.74 613.11l5 5m0-5l-5 5M260.9 614.43l5 5m0-5l-5 5M261.06 612.92l5 5m0-5l-5 5M261.22 613.69l5 5m0-5l-5 5M261.38 615.13l5 5m0-5l-5 5M261.54 612.78l5 5m0-5l-5 5M261.7 614.11l5 5m0-5l-5 5M261.86 614.02l5 5m0-5l-5 5M262.02 611.64l5 5m0-5l-5 5M262.18 615.4l5 5m0-5l-5 5M262.34 612.57l5 5m0-5l-5 5M262.5 614.3l5 5m0-5l-5 5M262.66 613.62l5 5m0-5l-5 5M262.82 613.01l5 5m0-5l-5 5M262.98 613.36l5 5m0-5l-5 5M263.14 614.82l5 5m0-5l-5 5M263.3 612.48l5 5m0-5l-5 5M263.46 614.01l5 5m0-5l-5 5M263.62 611.44l5 5m0-5l-5 5M263.78 613.29l5 5m0-5l-5 5M263.94 611.43l5 5m0-5l-5 5M264.1 613.52l5 5m0-5l-5 5M264.26 614.23l5 5m0-5l-5 5M264.42 611.61l5 5m0-5l-5 5M264.58 613.93l5 5m0-5l-5 5M264.74 613.54l5 5m0-5l-5 5M264.9 613.67l5 5m0-5l-5 5M265.06 614.77l5 5m0-5l-5 5M265.22 614.68l5 5m0-5l-5 5M265.38 615.58l5 5m0-5l-5 5M265.54 615.59l5 5m0-5l-5 5M265.7 613.94l5 5m0-5l-5 5M265.86 615.5l5 5m0-5l-5 5M266.02 615.49l5 5m0-5l-5 5M266.18 614.45l5 5m0-5l-5 5M266.34 614.08l5 5m0-5l-5 5M266.5 613.88l5 5m0-5l-5 5M266.66 613.88l5 5m0-5l-5 5M266.82 615.48l5 5m0-5l-5 5M266.98 614.3l5 5m0-5l-5 5M267.14 615.01l5 5m0-5l-5 5M267.3 614.03l5 5m0-5l-5 5M267.46 613.87l5 5m0-5l-5 5M267.62 617.13l5 5m0-5l-5 5M267.78 616.83l5 5m0-5l-5 5M267.94 615.87l5 5m0-5l-5 5M268.1 615.01l5 5m0-5l-5 5M268.26 614.13l5 5m0-5l-5 5M268.42 616.7l5 5m0-5l-5 5M268.58 613.84l5 5m0-5l-5 5M268.74 615.18l5 5m0-5l-5 5M268.9 615.43l5 5m0-5l-5 5M269.06 613.57l5 5m0-5l-5 5M269.22 615.24l5 5m0-5l-5 5M269.38 616.6l5 5m0-5l-5 5M273.5 599.01l5 5m0-5l-5 5M273.66 596.18l5 5m0-5l-5 5M273.82 599.46l5 5m0-5l-5 5M273.98 596.8l5 5m0-5l-5 5M274.14 598.07l5 5m0-5l-5 5M274.3 598l5 5m0-5l-5 5M274.46 597.1l5 5m0-5l-5 5M274.62 599.43l5 5m0-5l-5 5M274.78 598.22l5 5m0-5l-5 5M274.94 598.58l5 5m0-5l-5 5M275.1 596.71l5 5m0-5l-5 5M275.26 597.2l5 5m0-5l-5 5M275.42 599.89l5 5m0-5l-5 5M275.58 598.16l5 5m0-5l-5 5M275.74 597.95l5 5m0-5l-5 5M275.9 598.28l5 5m0-5l-5 5M276.06 597.25l5 5m0-5l-5 5M276.22 596.19l5 5m0-5l-5 5M276.38 596.86l5 5m0-5l-5 5M276.54 598.05l5 5m0-5l-5 5M276.7 598.97l5 5m0-5l-5 5M276.86 598.71l5 5m0-5l-5 5M277.02 596.62l5 5m0-5l-5 5M277.18 597.17l5 5m0-5l-5 5M277.34 597.3l5 5m0-5l-5 5M277.5 599.97l5 5m0-5l-5 5M277.66 597.06l5 5m0-5l-5 5M277.82 597.5l5 5m0-5l-5 5M277.98 598.69l5 5m0-5l-5 5M278.14 599.74l5 5m0-5l-5 5M278.3 598.91l5 5m0-5l-5 5M278.46 599.03l5 5m0-5l-5 5M278.62 599.9l5 5m0-5l-5 5M278.78 597.05l5 5m0-5l-5 5M278.94 599.21l5 5m0-5l-5 5M279.1 598.46l5 5m0-5l-5 5M279.26 599.8l5 5m0-5l-5 5M279.42 598.29l5 5m0-5l-5 5M279.58 600.23l5 5m0-5l-5 5M279.74 601.14l5 5m0-5l-5 5M279.9 602.04l5 5m0-5l-5 5M280.06 598.61l5 5m0-5l-5 5M280.22 599.14l5 5m0-5l-5 5M280.38 600.32l5 5m0-5l-5 5M280.54 601.35l5 5m0-5l-5 5M280.7 599.25l5 5m0-5l-5 5M280.86 601.65l5 5m0-5l-5 5M281.02 599.5l5 5m0-5l-5 5M281.18 602.09l5 5m0-5l-5 5M281.34 600.37l5 5m0-5l-5 5M281.5 601.67l5 5m0-5l-5 5M281.66 598.64l5 5m0-5l-5 5M281.82 598.79l5 5m0-5l-5 5M281.98 602.06l5 5m0-5l-5 5M282.14 598.89l5 5m0-5l-5 5M282.3 602.7l5 5m0-5l-5 5M282.46 600l5 5m0-5l-5 5M282.62 601.18l5 5m0-5l-5 5M282.78 602.66l5 5m0-5l-5 5M282.94 601.9l5 5m0-5l-5 5M283.1 601.95l5 5m0-5l-5 5M283.26 602.26l5 5m0-5l-5 5M283.42 601.92l5 5m0-5l-5 5M283.58 603.09l5 5m0-5l-5 5M283.74 603.04l5 5m0-5l-5 5M283.9 603l5 5m0-5l-5 5M284.06 603.04l5 5m0-5l-5 5M284.22 602.09l5 5m0-5l-5 5M284.38 601.72l5 5m0-5l-5 5M284.54 599.71l5 5m0-5l-5 5M284.7 604.54l5 5m0-5l-5 5M284.86 603.06l5 5m0-5l-5 5M285.02 603.49l5 5m0-5l-5 5M285.18 603.62l5 5m0-5l-5 5M285.34 602.36l5 5m0-5l-5 5M285.5 605.47l5 5m0-5l-5 5M285.66 603.68l5 5m0-5l-5 5M285.82 603.11l5 5m0-5l-5 5M285.98 603.62l5 5m0-5l-5 5M286.14 603.16l5 5m0-5l-5 5M286.3 600.93l5 5m0-5l-5 5M286.46 607.1l5 5m0-5l-5 5M286.62 604.19l5 5m0-5l-5 5M286.78 603.55l5 5m0-5l-5 5M286.94 602.98l5 5m0-5l-5 5M287.1 603.61l5 5m0-5l-5 5M287.26 603.19l5 5m0-5l-5 5M287.42 602.36l5 5m0-5l-5 5M287.58 602.01l5 5m0-5l-5 5M287.74 603.47l5 5m0-5l-5 5M287.9 604.87l5 5m0-5l-5 5M288.06 604.03l5 5m0-5l-5 5M288.22 605.11l5 5m0-5l-5 5M288.38 604.74l5 5m0-5l-5 5M288.54 602.92l5 5m0-5l-5 5M288.7 604.49l5 5m0-5l-5 5M288.86 605.65l5 5m0-5l-5 5M289.02 603.31l5 5m0-5l-5 5M289.18 603.89l5 5m0-5l-5 5M289.34 603.56l5 5m0-5l-5 5M289.5 604.17l5 5m0-5l-5 5M289.66 603.94l5 5m0-5l-5 5M289.82 603.81l5 5m0-5l-5 5M289.98 603.19l5 5m0-5l-5 5M290.14 605.97l5 5m0-5l-5 5M290.3 603.66l5 5m0-5l-5 5M290.46 604.83l5 5m0-5l-5 5M290.62 604.69l5 5m0-5l-5 5M290.78 604.55l5 5m0-5l-5 5M290.94 606.16l5 5m0-5l-5 5M291.1 604.93l5 5m0-5l-5 5M291.26 605.87l5 5m0-5l-5 5M291.42 603.85l5 5m0-5l-5 5M291.58 606.7l5 5m0-5l-5 5" stroke="#000" stroke-width="1" fill="none" shape-rendering="crispEdges"/>
<polyline points="162.6,593.2 165.1,597.2 168.1,599.2 172.1,597.7 176.2,598.2 180.2,599.7 185.2,599.2 189.3,601.3 193.3,605.3 197.3,605.3 201.4,599.2 207.4,602.3 212.5,604.3 216.5,607.8 219.5,606.8 223.5,602.8 227.6,605.3 230.6,604.8 233.6,601.8 236.7,602.3 239.7,605.8 245.7,607.3 250.8,608.8 255.8,611.8 260.8,614.4 265.9,616.4 271.9,617.9" fill="none" stroke="#1E90FF" stroke-width="4.6" stroke-linejoin="round" stroke-linecap="butt" shape-rendering="crispEdges"/>
<polyline points="276,600.7 281,600.7 286,604.8 290.1,606.8 294.1,607.8" fill="none" stroke="#1E90FF" stroke-width="4.6" stroke-linejoin="round" stroke-linecap="butt" shape-rendering="crispEdges"/>
</g>
</svg></body></html>
